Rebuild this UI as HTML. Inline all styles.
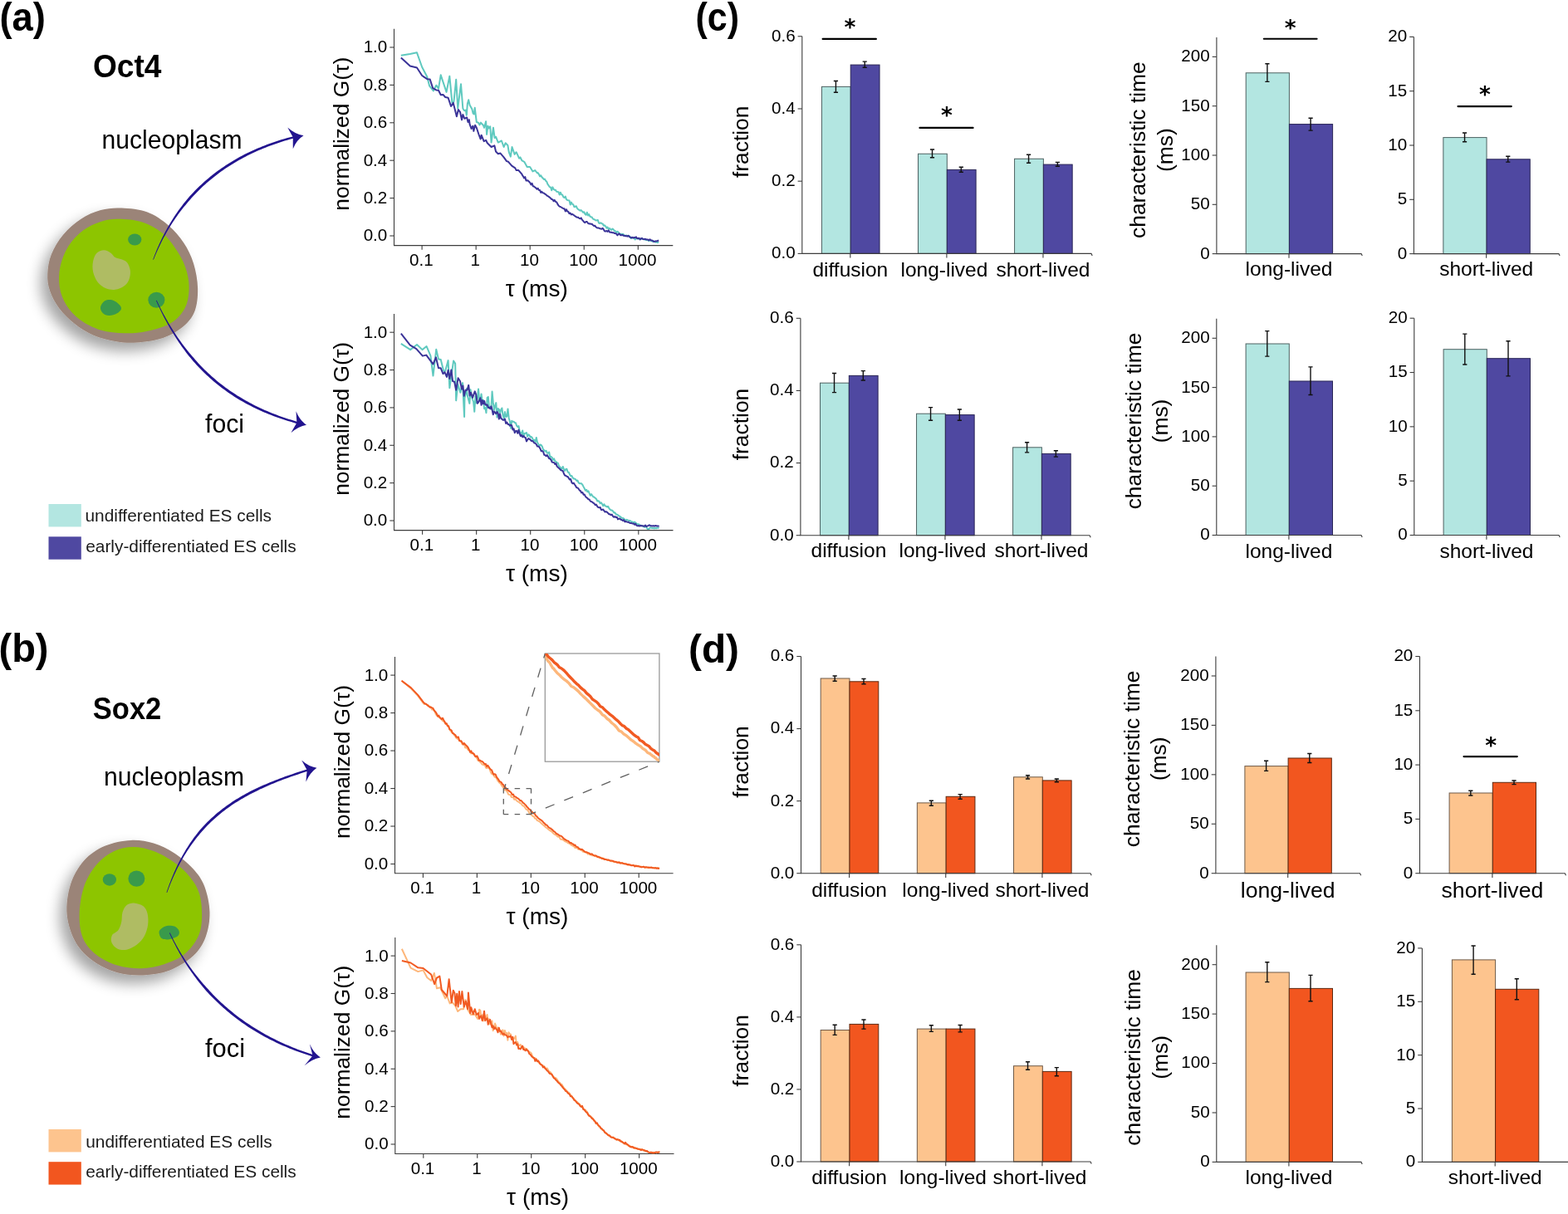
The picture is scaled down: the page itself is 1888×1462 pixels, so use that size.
<!DOCTYPE html><html><head><meta charset="utf-8"><style>html,body{margin:0;padding:0;background:#fff;overflow:hidden;}svg{display:block;}</style></head><body><svg width="1888" height="1462" viewBox="0 0 1888 1462" font-family='"Liberation Sans", Arial, sans-serif'><rect width="100%" height="100%" fill="#fff"/><path d="M474.5,34.75 V295.6 H810.3" fill="none" stroke="#3c3c3c" stroke-width="1.1"/>
<line x1="469.3" y1="284" x2="474.5" y2="284" stroke="#3c3c3c" stroke-width="1.1"/>
<text x="466.3" y="290.4" font-size="20.6" text-anchor="end">0.0</text>
<line x1="469.3" y1="238.6" x2="474.5" y2="238.6" stroke="#3c3c3c" stroke-width="1.1"/>
<text x="466.3" y="245" font-size="20.6" text-anchor="end">0.2</text>
<line x1="469.3" y1="193.2" x2="474.5" y2="193.2" stroke="#3c3c3c" stroke-width="1.1"/>
<text x="466.3" y="199.6" font-size="20.6" text-anchor="end">0.4</text>
<line x1="469.3" y1="147.8" x2="474.5" y2="147.8" stroke="#3c3c3c" stroke-width="1.1"/>
<text x="466.3" y="154.2" font-size="20.6" text-anchor="end">0.6</text>
<line x1="469.3" y1="102.4" x2="474.5" y2="102.4" stroke="#3c3c3c" stroke-width="1.1"/>
<text x="466.3" y="108.8" font-size="20.6" text-anchor="end">0.8</text>
<line x1="469.3" y1="57" x2="474.5" y2="57" stroke="#3c3c3c" stroke-width="1.1"/>
<text x="466.3" y="63.4" font-size="20.6" text-anchor="end">1.0</text>
<line x1="508.1" y1="295.6" x2="508.1" y2="300.8" stroke="#3c3c3c" stroke-width="1.1"/>
<text x="507.3" y="320.1" font-size="20.6" text-anchor="middle">0.1</text>
<line x1="573.15" y1="295.6" x2="573.15" y2="300.8" stroke="#3c3c3c" stroke-width="1.1"/>
<text x="572.35" y="320.1" font-size="20.6" text-anchor="middle">1</text>
<line x1="638.2" y1="295.6" x2="638.2" y2="300.8" stroke="#3c3c3c" stroke-width="1.1"/>
<text x="637.4" y="320.1" font-size="20.6" text-anchor="middle">10</text>
<line x1="703.25" y1="295.6" x2="703.25" y2="300.8" stroke="#3c3c3c" stroke-width="1.1"/>
<text x="702.45" y="320.1" font-size="20.6" text-anchor="middle">100</text>
<line x1="768.3" y1="295.6" x2="768.3" y2="300.8" stroke="#3c3c3c" stroke-width="1.1"/>
<text x="767.5" y="320.1" font-size="20.6" text-anchor="middle">1000</text>
<path d="M482.84,66.76L493.78,65.05L501.99,63.34L508.15,80.78L514.3,92.41L517.04,103.35L521.83,109.51L525.25,102.67L527.98,106.77L530.72,90.36L537.56,110.88L541.32,91.72L544.4,123.87L546.45,122.5L549.19,95.83L551.24,130.71L555,101.3L557.37,130.73L559.08,133.26L560.79,132.57L561.81,138.73L562.84,125.05L564.21,120.26L565.58,126.42L568.31,131.2L569.68,136.68L570.71,137.36L571.73,129.84L573.78,146.94L575.84,147.62L577.55,150.36L578.91,147.62L581.99,151.04L583.02,153.78L585.07,146.25L586.1,161.98L587.46,151.72L588.83,154.46L590.2,152.41L591.57,171.56L593.96,153.78L595.67,166.09L597.04,164.72L599.78,171.56L603.88,169.51L606.62,177.03L608.67,172.24L611.4,174.98L612.77,183.19L614.82,188.66L616.53,177.03L619.61,185.92L621.66,183.19L625.08,190.71L626.45,189.34L628.5,193.45L631.24,194.82L634.66,200.97L638.08,200.97L641.5,206.44L644.24,205.08L646.97,208.5L647.66,208.09L648.84,209.75L650.03,212.34L651.21,211.26L652.39,213.26L653.58,214.48L654.76,215.93L655.94,215.63L657.12,217.76L658.31,218.81L659.49,221.91L660.67,223.43L661.85,225.29L663.04,225.51L664.22,229.27L665.4,225.34L666.59,227.88L667.77,228.78L668.95,228.72L670.13,230.87L671.32,230.96L672.5,231.16L673.68,234.51L674.86,231.74L676.05,234.32L677.23,234.71L678.41,237.44L679.6,238L680.78,236.6L681.96,240.06L683.14,241.05L684.33,241.24L685.51,241.38L686.69,246.52L687.87,243.56L689.06,245.88L690.24,246.26L691.42,249.19L692.61,248.74L693.79,248.28L694.97,250.85L696.15,252.18L697.34,252.77L698.52,253.62L699.7,253.05L700.88,254.37L702.07,255.77L703.25,255.24L704.43,257.78L705.62,258.82L706.8,255.8L707.98,259.49L709.16,258.08L710.35,260.46L711.53,261.35L712.71,261.44L713.89,263.5L715.08,264.27L716.26,264.48L717.44,265.43L718.63,265.22L719.81,264.91L720.99,268.48L722.17,268.98L723.36,268.3L724.54,269.26L725.72,269.47L726.9,271.78L728.09,271.34L729.27,272.6L730.45,274.63L731.64,273.58L732.82,275.94L734,274.87L735.18,276.33L736.37,276.75L737.55,275.47L738.73,276.54L739.91,277.96L741.1,278.5L742.28,279.92L743.46,278.85L744.65,279.82L745.83,281.43L747.01,282.49L748.19,281.7L749.38,282.27L750.56,281.94L751.74,283.73L752.92,284.03L754.11,283.49L755.29,284.1L756.47,283.86L757.66,284.1L758.84,285.82L760.02,287.12L761.2,285.78L762.39,286.59L763.57,286.22L764.75,288.4L765.93,286.96L767.12,287.08L768.3,287.73L769.48,287.29L770.67,287.77L771.85,287.91L773.03,287.48L774.21,287.7L775.4,287.97L776.58,288.66L777.76,288.99L778.94,288.94L780.13,289.28L781.31,290.06L782.49,289.62L783.68,289.53L784.86,290.44L786.04,290.99L787.22,290.3L788.41,291.19L789.59,291.76L790.77,291.32L791.95,292.13L793.14,291.45" fill="none" stroke="#5fc9bf" stroke-width="2" stroke-linejoin="round"/>
<path d="M482.84,69.49L493.78,79.41L501.99,81.46L508.15,91.04L514.3,95.14L517.72,95.49L521.14,106.09L525.25,108.48L527.98,108.82L530.72,114.3L533.46,113.95L536.19,117.03L539.61,117.72L543.03,127.98L545.77,123.87L549.87,140.29L551.92,132.08L553.98,134.82L556.03,144.39L557.37,138.04L559.42,142.83L562.16,141.46L563.52,146.94L564.89,144.2L565.58,149.67L567.63,155.14L569.34,151.72L570.36,157.88L572.07,150.7L573.78,153.78L576.52,161.98L578.57,167.46L579.6,162.67L582.68,170.19L585.07,168.82L586.78,172.24L591.57,177.03L595.33,175.32L597.04,182.5L599.78,185.24L602.51,184.56L606.62,189.34L610.04,194.13L612.09,194.82L616.19,199.6L620.3,202.34L621.66,205.08L624.4,205.08L628.5,209.86L628.74,210.73L629.92,212.28L631.1,214.44L632.29,213.1L633.47,217.58L634.65,217.22L635.83,217.49L637.02,218.81L638.2,219.9L639.38,222.45L640.57,220.83L641.75,224.18L642.93,224.55L644.11,225.45L645.3,226.38L646.48,227.74L647.66,226.75L648.84,228.89L650.03,228.89L651.21,231.93L652.39,230.82L653.58,232.3L654.76,232.54L655.94,233.49L657.12,234.09L658.31,235.35L659.49,236.03L660.67,236.83L661.85,237.64L663.04,238.7L664.22,239.99L665.4,240.27L666.59,242.3L667.77,240.91L668.95,242.87L670.13,243.32L671.32,245.62L672.5,247.52L673.68,248.64L674.86,249L676.05,249.77L677.23,250.46L678.41,251.29L679.6,251.36L680.78,254.48L681.96,252.21L683.14,254.56L684.33,254.98L685.51,257.22L686.69,256.47L687.87,258.49L689.06,257.79L690.24,258.68L691.42,259.47L692.61,260.42L693.79,261.17L694.97,261.87L696.15,261.63L697.34,262.85L698.52,263.35L699.7,262.43L700.88,264.65L702.07,265.93L703.25,267.43L704.43,268.12L705.62,266.92L706.8,266.96L707.98,268.83L709.16,269.47L710.35,269.37L711.53,269.72L712.71,269.76L713.89,271.04L715.08,271.97L716.26,271.67L717.44,273.31L718.63,274.2L719.81,274.53L720.99,274.57L722.17,275.16L723.36,275.4L724.54,275.86L725.72,274.85L726.9,276.54L728.09,278.57L729.27,278.52L730.45,277.92L731.64,278.93L732.82,277.45L734,279.42L735.18,279.73L736.37,279.76L737.55,280.31L738.73,280.17L739.91,280.98L741.1,280.95L742.28,281.82L743.46,283.32L744.65,281.82L745.83,281.41L747.01,283.23L748.19,283.29L749.38,282.8L750.56,283.84L751.74,283.75L752.92,284.23L754.11,284.02L755.29,284.7L756.47,283.75L757.66,285.1L758.84,285.51L760.02,286.39L761.2,285.78L762.39,286.56L763.57,285.91L764.75,286.17L765.93,285.26L767.12,287.29L768.3,287L769.48,286.71L770.67,288.5L771.85,287.29L773.03,286.86L774.21,287.95L775.4,288.18L776.58,287.71L777.76,288.36L778.94,288.53L780.13,288.42L781.31,289.4L782.49,288.23L783.68,289.52L784.86,289.52L786.04,289.87L787.22,291.1L788.41,290.8L789.59,290.37L790.77,290.38L791.95,290L793.14,289.48" fill="none" stroke="#3a3398" stroke-width="2" stroke-linejoin="round"/>
<text x="420.2" y="161.18" font-size="26.4" text-anchor="middle" transform="rotate(-90 420.2 161.18)">normalized G(τ)</text>
<text x="646.3" y="356.8" font-size="27.5" text-anchor="middle" textLength="75" lengthAdjust="spacingAndGlyphs">τ (ms)</text>
<path d="M474.5,378.1 V638.6 H810.5" fill="none" stroke="#3c3c3c" stroke-width="1.1"/>
<line x1="469.3" y1="627" x2="474.5" y2="627" stroke="#3c3c3c" stroke-width="1.1"/>
<text x="466.3" y="633.4" font-size="20.6" text-anchor="end">0.0</text>
<line x1="469.3" y1="581.64" x2="474.5" y2="581.64" stroke="#3c3c3c" stroke-width="1.1"/>
<text x="466.3" y="588.04" font-size="20.6" text-anchor="end">0.2</text>
<line x1="469.3" y1="536.28" x2="474.5" y2="536.28" stroke="#3c3c3c" stroke-width="1.1"/>
<text x="466.3" y="542.68" font-size="20.6" text-anchor="end">0.4</text>
<line x1="469.3" y1="490.92" x2="474.5" y2="490.92" stroke="#3c3c3c" stroke-width="1.1"/>
<text x="466.3" y="497.32" font-size="20.6" text-anchor="end">0.6</text>
<line x1="469.3" y1="445.56" x2="474.5" y2="445.56" stroke="#3c3c3c" stroke-width="1.1"/>
<text x="466.3" y="451.96" font-size="20.6" text-anchor="end">0.8</text>
<line x1="469.3" y1="400.2" x2="474.5" y2="400.2" stroke="#3c3c3c" stroke-width="1.1"/>
<text x="466.3" y="406.6" font-size="20.6" text-anchor="end">1.0</text>
<line x1="508.6" y1="638.6" x2="508.6" y2="643.8" stroke="#3c3c3c" stroke-width="1.1"/>
<text x="507.8" y="663.1" font-size="20.6" text-anchor="middle">0.1</text>
<line x1="573.65" y1="638.6" x2="573.65" y2="643.8" stroke="#3c3c3c" stroke-width="1.1"/>
<text x="572.85" y="663.1" font-size="20.6" text-anchor="middle">1</text>
<line x1="638.7" y1="638.6" x2="638.7" y2="643.8" stroke="#3c3c3c" stroke-width="1.1"/>
<text x="637.9" y="663.1" font-size="20.6" text-anchor="middle">10</text>
<line x1="703.75" y1="638.6" x2="703.75" y2="643.8" stroke="#3c3c3c" stroke-width="1.1"/>
<text x="702.95" y="663.1" font-size="20.6" text-anchor="middle">100</text>
<line x1="768.8" y1="638.6" x2="768.8" y2="643.8" stroke="#3c3c3c" stroke-width="1.1"/>
<text x="768" y="663.1" font-size="20.6" text-anchor="middle">1000</text>
<path d="M482.84,413.94L494.13,421.12L501.99,414.97L508.49,421.12L513.62,417.02L518.41,428.3L521.49,452.59L525.25,420.78L527.98,432.41L530.72,433.09L534.14,446.77L536.19,446.77L539.61,434.12L541.32,467.29L546.11,434.46L548.16,437.88L549.19,482.34L551.24,462.5L554.32,472.76L557.05,461.14L559.08,501.98L559.46,479.39L560.64,474.76L561.82,468.12L563.01,477.05L564.19,481.41L565.37,485.9L566.55,469.13L567.74,476.63L568.92,480.77L570.1,483.92L571.28,495.79L572.47,477.01L573.65,485.34L574.83,479.32L576.02,468.45L577.2,482.89L578.38,481.9L579.56,474.42L580.75,483.71L581.93,481.94L583.11,492.24L584.29,491.17L585.48,497.29L586.66,479.06L587.84,478.02L589.03,491.51L590.21,490L591.39,492.82L592.57,471.59L593.76,484.67L594.94,493.7L596.12,488.79L597.3,485.14L598.49,502.59L599.67,491.93L600.85,492.93L602.04,497.85L603.22,493.45L604.4,491.44L605.58,500.34L606.77,503.81L607.95,496.07L609.13,502.03L610.31,501.31L611.5,492.39L612.68,503.48L613.86,507.23L615.05,515.79L616.23,506.77L617.41,507.89L618.59,507.67L619.78,509.02L620.96,509.32L622.14,512.73L623.32,514.16L624.51,513.1L625.69,519.54L626.87,521.4L628.06,522.08L629.24,518.53L630.42,526.06L631.6,522.08L632.79,521.79L633.97,520.96L635.15,525.81L636.33,523.32L637.52,524.24L638.7,526.68L639.88,525.98L641.07,527.55L642.25,530.79L643.43,529.88L644.61,532.15L645.8,526.96L646.98,532.7L648.16,534.59L649.34,537.28L650.53,535.55L651.71,536.03L652.89,537.87L654.08,541.53L655.26,542.17L656.44,543.48L657.62,542.75L658.81,545.57L659.99,545.75L661.17,544.45L662.35,550.74L663.54,549.9L664.72,550.93L665.9,554.06L667.09,552.29L668.27,555.25L669.45,555.94L670.63,557.14L671.82,557.58L673,561.12L674.18,562.19L675.36,563.78L676.55,564.5L677.73,561.94L678.91,564.94L680.1,566.88L681.28,565.09L682.46,564.81L683.64,568.52L684.83,568.77L686.01,571.37L687.19,573.33L688.37,572.98L689.56,575.29L690.74,576.55L691.92,576.58L693.11,577.32L694.29,578.92L695.47,578.61L696.65,581.37L697.84,582.18L699.02,582.24L700.2,582.31L701.38,583.83L702.57,586.13L703.75,588.22L704.93,590.82L706.12,589.78L707.3,592.25L708.48,591.34L709.66,594.17L710.85,596.72L712.03,595.17L713.21,596.82L714.39,598.3L715.58,598.71L716.76,599.86L717.94,600.73L719.13,603.42L720.31,603.16L721.49,603.92L722.67,606.17L723.86,605.2L725.04,607.07L726.22,609.17L727.4,607.21L728.59,609.29L729.77,609.66L730.95,610.55L732.14,609.84L733.32,612.05L734.5,613.5L735.68,614.44L736.87,614.6L738.05,615.58L739.23,617.39L740.41,617.21L741.6,619.19L742.78,619.52L743.96,620.15L745.15,621.16L746.33,621.97L747.51,622.68L748.69,623.83L749.88,623.94L751.06,624.39L752.24,625.88L753.42,626.46L754.61,625.82L755.79,626.47L756.97,626.8L758.16,626.9L759.34,627.59L760.52,628.61L761.7,628.42L762.89,629.62L764.07,628.63L765.25,629.49L766.43,630.54L767.62,631.36L768.8,631.15L769.98,632L771.17,632.86L772.35,632.71L773.53,633.53L774.71,633.68L775.9,634.79L777.08,634.14L778.26,634.64L779.44,636.69L780.63,637.08L781.81,636.53L782.99,635.24L784.18,635.67L785.36,635.9L786.54,635.79L787.72,636.48L788.91,635.74L790.09,636.26L791.27,635.61L792.45,635.83L793.64,635.86" fill="none" stroke="#5fc9bf" stroke-width="2" stroke-linejoin="round"/>
<path d="M482.84,401.63L493.78,415.65L501.31,420.1L508.83,428.65L513.28,427.62L521.49,438.56L524.91,430.36L527.98,443.35L530.72,443.35L533.46,450.19L535.51,448.14L537.9,453.95L539.61,445.75L541.32,456.01L543.37,445.4L545.08,459.08L547.14,459.77L549.19,469.69L551.58,455.32L553.98,459.08L556.03,468.66L557.4,464.56L558.76,476.87L560.47,469.69L562.53,469.69L564.24,463.87L565.6,476.53L566.97,472.76L569.02,478.92L571.76,471.4L573.13,474.82L574.84,485.76L576.02,484.52L577.2,482.33L578.38,479.23L579.56,487.86L580.75,482.01L581.93,486.35L583.11,482.88L584.29,487.24L585.48,487.74L586.66,487.28L587.84,490.93L589.03,490.66L590.21,492.22L591.39,489.38L592.57,493.27L593.76,499.24L594.94,495.41L596.12,496.76L597.3,498.3L598.49,496L599.67,497.68L600.85,504.59L602.04,498.75L603.22,503.84L604.4,504.66L605.58,505.7L606.77,505.68L607.95,504.47L609.13,509.95L610.31,508.5L611.5,510.88L612.68,510.96L613.86,512.66L615.05,511.63L616.23,512.53L617.41,517.59L618.59,516.3L619.78,521.32L620.96,518.93L622.14,518.9L623.32,521.79L624.51,517.83L625.69,522.2L626.87,525.21L628.06,523.91L629.24,526.36L630.42,525.03L631.6,526.63L632.79,527L633.97,531.47L635.15,529.43L636.33,528.05L637.52,528.82L638.7,529.6L639.88,531.08L641.07,531.1L642.25,532.11L643.43,533.53L644.61,533.87L645.8,535.12L646.98,537.48L648.16,537.58L649.34,538.29L650.53,540.45L651.71,543.29L652.89,543.08L654.08,543.94L655.26,547.73L656.44,548.17L657.62,549.24L658.81,548.09L659.99,550.03L661.17,552.16L662.35,552.31L663.54,553.94L664.72,556.61L665.9,556.83L667.09,556.92L668.27,559.07L669.45,558.08L670.63,561.59L671.82,562.76L673,563.87L674.18,564.92L675.36,566.25L676.55,566.52L677.73,567.22L678.91,570.23L680.1,572.47L681.28,572.9L682.46,573.8L683.64,573.92L684.83,575.89L686.01,577.58L687.19,576.93L688.37,580.95L689.56,582.24L690.74,581.67L691.92,583.48L693.11,585.15L694.29,587.27L695.47,587.39L696.65,588.67L697.84,590.54L699.02,591.2L700.2,593.46L701.38,592.92L702.57,595.65L703.75,595.43L704.93,597.91L706.12,599.11L707.3,599.78L708.48,601.35L709.66,601.49L710.85,603.63L712.03,604.04L713.21,604.71L714.39,605.59L715.58,606.52L716.76,608.12L717.94,607.63L719.13,609.79L720.31,610.91L721.49,611.17L722.67,610.97L723.86,613.9L725.04,613.93L726.22,613.49L727.4,615.02L728.59,616.58L729.77,616.12L730.95,616.82L732.14,617.94L733.32,619.28L734.5,619.33L735.68,620.17L736.87,619.65L738.05,621.7L739.23,622.76L740.41,622.12L741.6,623.04L742.78,622.71L743.96,625.43L745.15,624.67L746.33,624.53L747.51,625.71L748.69,625.91L749.88,626.93L751.06,626.07L752.24,628.18L753.42,627.91L754.61,628.43L755.79,628.84L756.97,628.82L758.16,629.69L759.34,629.93L760.52,630.08L761.7,630.57L762.89,630.52L764.07,631.86L765.25,630.78L766.43,632.88L767.62,633.19L768.8,633.01L769.98,633.56L771.17,632.92L772.35,633.19L773.53,633.21L774.71,633.4L775.9,633.66L777.08,632.51L778.26,634.2L779.44,633.38L780.63,633.13L781.81,632.3L782.99,632.97L784.18,633.22L785.36,633.52L786.54,633.12L787.72,633.71L788.91,633.03L790.09,633.24L791.27,633.58L792.45,633.54L793.64,633.73" fill="none" stroke="#3a3398" stroke-width="2" stroke-linejoin="round"/>
<text x="420.2" y="504.35" font-size="26.4" text-anchor="middle" transform="rotate(-90 420.2 504.35)">normalized G(τ)</text>
<text x="646.4" y="699.8" font-size="27.5" text-anchor="middle" textLength="75" lengthAdjust="spacingAndGlyphs">τ (ms)</text>
<path d="M475.5,791.1 V1051.8 H810.6" fill="none" stroke="#3c3c3c" stroke-width="1.1"/>
<line x1="470.3" y1="1040.5" x2="475.5" y2="1040.5" stroke="#3c3c3c" stroke-width="1.1"/>
<text x="467.3" y="1046.9" font-size="20.6" text-anchor="end">0.0</text>
<line x1="470.3" y1="995.02" x2="475.5" y2="995.02" stroke="#3c3c3c" stroke-width="1.1"/>
<text x="467.3" y="1001.42" font-size="20.6" text-anchor="end">0.2</text>
<line x1="470.3" y1="949.54" x2="475.5" y2="949.54" stroke="#3c3c3c" stroke-width="1.1"/>
<text x="467.3" y="955.94" font-size="20.6" text-anchor="end">0.4</text>
<line x1="470.3" y1="904.06" x2="475.5" y2="904.06" stroke="#3c3c3c" stroke-width="1.1"/>
<text x="467.3" y="910.46" font-size="20.6" text-anchor="end">0.6</text>
<line x1="470.3" y1="858.58" x2="475.5" y2="858.58" stroke="#3c3c3c" stroke-width="1.1"/>
<text x="467.3" y="864.98" font-size="20.6" text-anchor="end">0.8</text>
<line x1="470.3" y1="813.1" x2="475.5" y2="813.1" stroke="#3c3c3c" stroke-width="1.1"/>
<text x="467.3" y="819.5" font-size="20.6" text-anchor="end">1.0</text>
<line x1="509.4" y1="1051.8" x2="509.4" y2="1057" stroke="#3c3c3c" stroke-width="1.1"/>
<text x="508.6" y="1076.3" font-size="20.6" text-anchor="middle">0.1</text>
<line x1="574.35" y1="1051.8" x2="574.35" y2="1057" stroke="#3c3c3c" stroke-width="1.1"/>
<text x="573.55" y="1076.3" font-size="20.6" text-anchor="middle">1</text>
<line x1="639.3" y1="1051.8" x2="639.3" y2="1057" stroke="#3c3c3c" stroke-width="1.1"/>
<text x="638.5" y="1076.3" font-size="20.6" text-anchor="middle">10</text>
<line x1="704.25" y1="1051.8" x2="704.25" y2="1057" stroke="#3c3c3c" stroke-width="1.1"/>
<text x="703.45" y="1076.3" font-size="20.6" text-anchor="middle">100</text>
<line x1="769.2" y1="1051.8" x2="769.2" y2="1057" stroke="#3c3c3c" stroke-width="1.1"/>
<text x="768.4" y="1076.3" font-size="20.6" text-anchor="middle">1000</text>
<path d="M483.55,819.7L494.99,829.22L503.11,837.85L509.4,846.45L510.58,847.8L511.76,848.07L512.94,847.79L514.12,848.88L515.3,849.04L516.49,850.26L517.67,850.91L518.85,851.99L520.03,854.48L521.21,853.83L522.39,855.45L523.57,856.89L524.75,860.07L525.93,861.61L527.11,862.4L528.29,863.45L529.48,864.12L530.66,865.58L531.84,866.25L533.02,868.3L534.2,868.64L535.38,869.74L536.56,871.89L537.74,871.31L538.92,873.85L540.1,874.99L541.28,878.28L542.47,880.13L543.65,881.5L544.83,882.89L546.01,883.69L547.19,885.35L548.37,887.23L549.55,888.89L550.73,889.69L551.91,889.3L553.09,892.24L554.27,892.45L555.46,893.45L556.64,896.36L557.82,896.2L559,896.29L560.18,900.5L561.36,900.21L562.54,901.25L563.72,903.12L564.9,903.16L566.08,904.89L567.26,907.39L568.45,906.54L569.63,907.93L570.81,908.93L571.99,909.74L573.17,911.97L574.35,913.43L575.53,915.93L576.71,915.37L577.89,917.61L579.07,918.55L580.25,920.28L581.44,920.94L582.62,921.45L583.8,920.72L584.98,924.55L586.16,924.97L587.34,924.48L588.52,924.53L589.7,926.47L590.88,929.92L592.06,931.92L593.24,931.13L594.43,933.73L595.61,935.78L596.79,935.85L597.97,937.5L599.15,939.93L600.33,941.46L601.51,942.85L602.69,943.51L603.87,945.74L605.05,947.27L606.23,948.65L607.42,951.46L608.6,950.77L609.78,952.27L610.96,953.79L612.14,956.63L613.32,956.93L614.5,957.15L615.68,959.92L616.86,960L618.04,960.35L619.22,962.77L620.41,962.09L621.59,963.64L622.77,964.91L623.95,965.5L625.13,966.17L626.31,967.3L627.49,967.66L628.67,969.54L629.85,970.46L631.03,970.91L632.21,972.68L633.4,974.46L634.58,974.97L635.76,976.12L636.94,978.37L638.12,980.09L639.3,980.72L640.48,981.86L641.66,983.03L642.84,983.34L644.02,985.47L645.2,985.49L646.39,987.61L647.57,988.42L648.75,988.83L649.93,989.63L651.11,990.77L652.29,992L653.47,993.1L654.65,994.1L655.83,994.91L657.01,996.21L658.19,997L659.38,997.85L660.56,999.04L661.74,999.67L662.92,1000.68L664.1,1001.03L665.28,1002.61L666.46,1003.81L667.64,1004.68L668.82,1005.41L670,1005.91L671.18,1007.23L672.37,1007.77L673.55,1008.01L674.73,1010.46L675.91,1010.68L677.09,1010.91L678.27,1011.6L679.45,1012.39L680.63,1013.35L681.81,1013.67L682.99,1014.51L684.17,1015.5L685.36,1015.13L686.54,1016.57L687.72,1017.59L688.9,1018.12L690.08,1018.86L691.26,1019.49L692.44,1021.1L693.62,1020.99L694.8,1021.14L695.98,1022.55L697.16,1022.8L698.35,1023.07L699.53,1023.71L700.71,1024.08L701.89,1025.71L703.07,1025.81L704.25,1026.34L705.43,1026.55L706.61,1026.91L707.79,1028.65L708.97,1027.91L710.15,1029.21L711.34,1028.99L712.52,1030.14L713.7,1030.04L714.88,1030.15L716.06,1030.99L717.24,1031.29L718.42,1031.5L719.6,1032.1L720.78,1032.55L721.96,1032.42L723.14,1032.95L724.33,1033.73L725.51,1033.14L726.69,1034.69L727.87,1034.4L729.05,1035.09L730.23,1035.29L731.41,1035.44L732.59,1035.89L733.77,1036.07L734.95,1037.01L736.13,1037.29L737.32,1036.94L738.5,1037.68L739.68,1037.97L740.86,1038.36L742.04,1037.82L743.22,1038.22L744.4,1038.26L745.58,1039.2L746.76,1039.17L747.94,1039.73L749.12,1039.43L750.31,1039.43L751.49,1040.36L752.67,1039.91L753.85,1040.3L755.03,1040.85L756.21,1041.59L757.39,1040.9L758.57,1041.55L759.75,1041.92L760.93,1041.89L762.11,1042.12L763.3,1042.05L764.48,1042.95L765.66,1042.59L766.84,1042.7L768.02,1042.91L769.2,1043.52L770.38,1043.83L771.56,1043.53L772.74,1043.91L773.92,1044.03L775.1,1043.83L776.29,1044.37L777.47,1044.99L778.65,1044.62L779.83,1045.08L781.01,1044.51L782.19,1044.73L783.37,1045.04L784.55,1044.99L785.73,1044.87L786.91,1045.14L788.09,1044.93L789.28,1045.34L790.46,1045.17L791.64,1045.15L792.82,1045.22L794,1045.84" fill="none" stroke="#fdb77b" stroke-width="2" stroke-linejoin="round"/>
<path d="M483.55,819.69L494.99,828.4L503.11,836.87L509.4,845.2L510.58,846.42L511.76,847.35L512.94,847.78L514.12,848.86L515.3,849.95L516.49,850.72L517.67,851.66L518.85,851.5L520.03,852.33L521.21,852.74L522.39,854.95L523.57,856.55L524.75,857.71L525.93,859.71L527.11,862.64L528.29,861.65L529.48,864.14L530.66,864.75L531.84,866.27L533.02,864.7L534.2,867.27L535.38,869.04L536.56,871.61L537.74,871.27L538.92,874.36L540.1,874.25L541.28,878.31L542.47,878.79L543.65,879.57L544.83,882.73L546.01,883.29L547.19,884.55L548.37,885.09L549.55,887.57L550.73,887.66L551.91,887.52L553.09,891.9L554.27,892.45L555.46,892.37L556.64,894.57L557.82,896.41L559,895.02L560.18,896.65L561.36,897.72L562.54,898.94L563.72,900.47L564.9,903.13L566.08,905.79L567.26,904.27L568.45,906.95L569.63,907.11L570.81,908.01L571.99,910.79L573.17,911.14L574.35,910.38L575.53,912.47L576.71,915.87L577.89,915.63L579.07,916.48L580.25,916.9L581.44,917.64L582.62,919.27L583.8,920.27L584.98,920.11L586.16,923.11L587.34,921.72L588.52,923.49L589.7,925.37L590.88,926.73L592.06,927.45L593.24,930.46L594.43,932.81L595.61,932.16L596.79,932.95L597.97,935.93L599.15,937.37L600.33,938.94L601.51,941.13L602.69,941.49L603.87,942.59L605.05,944.56L606.23,945.24L607.42,947.91L608.6,948.22L609.78,950.14L610.96,951.13L612.14,951.78L613.32,952.99L614.5,953.65L615.68,954.87L616.86,957.1L618.04,956.6L619.22,959.35L620.41,959.44L621.59,960.12L622.77,961.2L623.95,961.7L625.13,962.78L626.31,964.15L627.49,964.07L628.67,965.46L629.85,966.93L631.03,967.58L632.21,968.88L633.4,970.03L634.58,971.84L635.76,972.85L636.94,974.38L638.12,974.83L639.3,976.96L640.48,977.34L641.66,979.08L642.84,979.62L644.02,980.14L645.2,982.42L646.39,983.22L647.57,984.73L648.75,985.7L649.93,986.69L651.11,987.46L652.29,988.15L653.47,989.23L654.65,990.87L655.83,991.64L657.01,993.36L658.19,993.53L659.38,994.89L660.56,996.25L661.74,997.1L662.92,997.55L664.1,998.71L665.28,999.46L666.46,1000.85L667.64,1001.55L668.82,1002.63L670,1004.05L671.18,1004.4L672.37,1005.26L673.55,1006.33L674.73,1006.59L675.91,1006.9L677.09,1007.99L678.27,1009.31L679.45,1010.55L680.63,1010.96L681.81,1011.9L682.99,1012.37L684.17,1012.75L685.36,1013.96L686.54,1015.21L687.72,1014.95L688.9,1016.17L690.08,1016.46L691.26,1018.01L692.44,1017.55L693.62,1019.61L694.8,1019.86L695.98,1020.33L697.16,1022.21L698.35,1022.27L699.53,1023.2L700.71,1022.7L701.89,1023.67L703.07,1024.84L704.25,1025.7L705.43,1026.28L706.61,1026.2L707.79,1027.09L708.97,1027.24L710.15,1028.07L711.34,1028.97L712.52,1028.32L713.7,1029.24L714.88,1030.1L716.06,1030.45L717.24,1030.37L718.42,1030.97L719.6,1032.08L720.78,1031.64L721.96,1032.73L723.14,1032.77L724.33,1033.74L725.51,1033.97L726.69,1033.9L727.87,1034.9L729.05,1034.87L730.23,1035.12L731.41,1035.79L732.59,1035.48L733.77,1036.04L734.95,1036.59L736.13,1036.54L737.32,1036.73L738.5,1037.05L739.68,1037.73L740.86,1037.71L742.04,1038.1L743.22,1038.78L744.4,1038.81L745.58,1038.36L746.76,1039.42L747.94,1039.28L749.12,1039.16L750.31,1039.99L751.49,1040.12L752.67,1040.55L753.85,1040.43L755.03,1041.15L756.21,1040.92L757.39,1041.51L758.57,1041.43L759.75,1042.23L760.93,1042.3L762.11,1041.97L763.3,1042.3L764.48,1043.5L765.66,1042.48L766.84,1043.32L768.02,1043.05L769.2,1043.2L770.38,1043.69L771.56,1043.9L772.74,1044.44L773.92,1043.95L775.1,1043.71L776.29,1044.63L777.47,1044.13L778.65,1044.33L779.83,1044.38L781.01,1044.98L782.19,1044.84L783.37,1044.83L784.55,1044.56L785.73,1045.3L786.91,1045.29L788.09,1045.43L789.28,1045.12L790.46,1045.79L791.64,1045.55L792.82,1045.9L794,1045.77" fill="none" stroke="#f15a22" stroke-width="2" stroke-linejoin="round"/>
<text x="421.2" y="917.45" font-size="26.4" text-anchor="middle" transform="rotate(-90 421.2 917.45)">normalized G(τ)</text>
<text x="646.95" y="1113" font-size="27.5" text-anchor="middle" textLength="75" lengthAdjust="spacingAndGlyphs">τ (ms)</text>
<path d="M475.8,1128.9 V1389.5 H811.5" fill="none" stroke="#3c3c3c" stroke-width="1.1"/>
<line x1="470.6" y1="1378" x2="475.8" y2="1378" stroke="#3c3c3c" stroke-width="1.1"/>
<text x="467.6" y="1384.4" font-size="20.6" text-anchor="end">0.0</text>
<line x1="470.6" y1="1332.62" x2="475.8" y2="1332.62" stroke="#3c3c3c" stroke-width="1.1"/>
<text x="467.6" y="1339.02" font-size="20.6" text-anchor="end">0.2</text>
<line x1="470.6" y1="1287.24" x2="475.8" y2="1287.24" stroke="#3c3c3c" stroke-width="1.1"/>
<text x="467.6" y="1293.64" font-size="20.6" text-anchor="end">0.4</text>
<line x1="470.6" y1="1241.86" x2="475.8" y2="1241.86" stroke="#3c3c3c" stroke-width="1.1"/>
<text x="467.6" y="1248.26" font-size="20.6" text-anchor="end">0.6</text>
<line x1="470.6" y1="1196.48" x2="475.8" y2="1196.48" stroke="#3c3c3c" stroke-width="1.1"/>
<text x="467.6" y="1202.88" font-size="20.6" text-anchor="end">0.8</text>
<line x1="470.6" y1="1151.1" x2="475.8" y2="1151.1" stroke="#3c3c3c" stroke-width="1.1"/>
<text x="467.6" y="1157.5" font-size="20.6" text-anchor="end">1.0</text>
<line x1="509.8" y1="1389.5" x2="509.8" y2="1394.7" stroke="#3c3c3c" stroke-width="1.1"/>
<text x="509" y="1414" font-size="20.6" text-anchor="middle">0.1</text>
<line x1="574.75" y1="1389.5" x2="574.75" y2="1394.7" stroke="#3c3c3c" stroke-width="1.1"/>
<text x="573.95" y="1414" font-size="20.6" text-anchor="middle">1</text>
<line x1="639.7" y1="1389.5" x2="639.7" y2="1394.7" stroke="#3c3c3c" stroke-width="1.1"/>
<text x="638.9" y="1414" font-size="20.6" text-anchor="middle">10</text>
<line x1="704.65" y1="1389.5" x2="704.65" y2="1394.7" stroke="#3c3c3c" stroke-width="1.1"/>
<text x="703.85" y="1414" font-size="20.6" text-anchor="middle">100</text>
<line x1="769.6" y1="1389.5" x2="769.6" y2="1394.7" stroke="#3c3c3c" stroke-width="1.1"/>
<text x="768.8" y="1414" font-size="20.6" text-anchor="middle">1000</text>
<path d="M483.87,1142.74L494.47,1165.65L503.36,1170.1L509.52,1168.39L514.3,1177.28L519.09,1181.04L522.85,1171.81L525.93,1190.27L530.04,1189.25L536.19,1202.24L538.24,1199.51L541.66,1208.4L544.4,1207.03L547.82,1210.45L551.24,1217.98L554.66,1215.24L558.08,1215.24L560.47,1203.95L562.87,1215.24L566.97,1222.08L571.76,1221.4L575.18,1226.87L575.93,1225.87L577.11,1215.7L578.29,1217.02L579.47,1224.83L580.65,1222.3L581.84,1229.47L583.02,1220.74L584.2,1225.07L585.38,1225.61L586.56,1221.99L587.74,1230.6L588.92,1227.25L590.1,1233.56L591.28,1232.56L592.46,1229.48L593.64,1241.23L594.83,1238.37L596.01,1232.59L597.19,1235.63L598.37,1240.49L599.55,1237.47L600.73,1238.48L601.91,1241.35L603.09,1245.84L604.27,1241.74L605.45,1240.42L606.63,1247.48L607.82,1240.91L609,1244.68L610.18,1243.98L611.36,1252.72L612.54,1243.34L613.72,1245.32L614.9,1245.39L616.08,1251.42L617.26,1249.31L618.44,1250.69L619.62,1250.42L620.81,1247.58L621.99,1258.87L623.17,1254.99L624.35,1259.32L625.53,1259.05L626.71,1257.95L627.89,1261.15L629.07,1261.9L630.25,1260.81L631.43,1262.11L632.61,1262.77L633.8,1262.89L634.98,1264.61L636.16,1265.58L637.34,1267.13L638.52,1267.29L639.7,1268.4L640.88,1271.67L642.06,1273.2L643.24,1274.49L644.42,1274.35L645.6,1275.03L646.79,1277.42L647.97,1278.88L649.15,1279.93L650.33,1281.11L651.51,1281.94L652.69,1283.44L653.87,1283.38L655.05,1284.32L656.23,1285.48L657.41,1287.83L658.59,1286.4L659.78,1288.16L660.96,1290.31L662.14,1290.79L663.32,1291.99L664.5,1293.87L665.68,1296.6L666.86,1297.01L668.04,1298.01L669.22,1298.3L670.4,1299.47L671.58,1301.21L672.77,1303.24L673.95,1303.72L675.13,1305.8L676.31,1305.72L677.49,1307.89L678.67,1309.6L679.85,1311.17L681.03,1312.1L682.21,1313.51L683.39,1316.22L684.57,1315.45L685.76,1316.75L686.94,1318.95L688.12,1319.35L689.3,1321.8L690.48,1322.75L691.66,1324.02L692.84,1325.34L694.02,1326.65L695.2,1327.23L696.38,1328.71L697.56,1329.43L698.75,1330.95L699.93,1331.73L701.11,1333.61L702.29,1334.81L703.47,1336.74L704.65,1336.32L705.83,1337.86L707.01,1339.02L708.19,1341.62L709.37,1342.9L710.55,1343.75L711.74,1345.72L712.92,1345.83L714.1,1348.34L715.28,1348.63L716.46,1350.3L717.64,1353.25L718.82,1353.35L720,1354.63L721.18,1356.63L722.36,1357.5L723.54,1359.2L724.73,1360.31L725.91,1360.74L727.09,1362.26L728.27,1363.31L729.45,1364.93L730.63,1365.4L731.81,1366.88L732.99,1366.75L734.17,1368.1L735.35,1368.91L736.53,1369.46L737.72,1369.89L738.9,1369.51L740.08,1370.96L741.26,1371.65L742.44,1372.73L743.62,1372.13L744.8,1372.95L745.98,1373.98L747.16,1373.78L748.34,1375.28L749.52,1375.04L750.71,1376.65L751.89,1377.31L753.07,1377.52L754.25,1378.46L755.43,1378.05L756.61,1379.95L757.79,1379.68L758.97,1380.33L760.15,1381.08L761.33,1381.41L762.51,1380.92L763.7,1383.02L764.88,1382.7L766.06,1383.24L767.24,1382.8L768.42,1383.98L769.6,1383.99L770.78,1384.52L771.96,1383.81L773.14,1384.29L774.32,1384.89L775.5,1385.89L776.69,1385.54L777.87,1386.1L779.05,1386.44L780.23,1387.31L781.41,1387.51L782.59,1388.24L783.77,1387.66L784.95,1388.34L786.13,1387.68L787.31,1388.35L788.49,1387.64L789.68,1388L790.86,1388.16L792.04,1387.7L793.22,1387.21L794.4,1387.31" fill="none" stroke="#fdb77b" stroke-width="2" stroke-linejoin="round"/>
<path d="M483.87,1157.1L494.47,1159.49L503.36,1165.31L509.52,1165.99L519.09,1173.52L523.2,1185.14L525.93,1177.62L529.35,1175.57L531.75,1191.98L538.24,1199.51L540.64,1179.33L543.72,1207.37L545.77,1192.67L547.48,1196.09L548.85,1211.14L550.21,1196.77L551.58,1212.5L552.95,1194.04L554.66,1209.08L556.37,1194.04L558.76,1212.5L560.82,1205.66L563.21,1215.24L563.89,1195.4L566.29,1220.03L567.31,1213.19L569.71,1221.4L571.76,1215.24L573.81,1222.08L576,1220.03L577.11,1226.87L578.29,1224.27L579.47,1223.36L580.65,1229.1L581.84,1225.65L583.02,1217.65L584.2,1229.19L585.38,1227.51L586.56,1226.22L587.74,1233.79L588.92,1229.33L590.1,1227.96L591.28,1232.93L592.46,1237.35L593.64,1235.28L594.83,1239.1L596.01,1237.22L597.19,1238.8L598.37,1240.19L599.55,1243.33L600.73,1237.66L601.91,1241.97L603.09,1241.63L604.27,1243.72L605.45,1245.86L606.63,1244.55L607.82,1246.11L609,1246.4L610.18,1247.22L611.36,1249.15L612.54,1248.29L613.72,1248.52L614.9,1247.47L616.08,1251.98L617.26,1248.73L618.44,1257.18L619.62,1255.57L620.81,1255.07L621.99,1257.84L623.17,1257.28L624.35,1263.07L625.53,1262.57L626.71,1263.46L627.89,1261.34L629.07,1259.62L630.25,1264.09L631.43,1263.82L632.61,1265.3L633.8,1263.63L634.98,1265.01L636.16,1266.06L637.34,1269.2L638.52,1269.79L639.7,1271.55L640.88,1272.75L642.06,1273.76L643.24,1274.21L644.42,1277.88L645.6,1275.57L646.79,1278.1L647.97,1277.31L649.15,1279.08L650.33,1281.25L651.51,1282.08L652.69,1282.56L653.87,1285.35L655.05,1284.64L656.23,1286.6L657.41,1287.5L658.59,1289.26L659.78,1289.94L660.96,1291.76L662.14,1293.03L663.32,1293.27L664.5,1294.1L665.68,1295.83L666.86,1298.34L668.04,1298.8L669.22,1300.39L670.4,1301.41L671.58,1303.07L672.77,1304.29L673.95,1305L675.13,1306.72L676.31,1307.8L677.49,1309.43L678.67,1311.03L679.85,1312.02L681.03,1314.06L682.21,1314.17L683.39,1315.72L684.57,1317.09L685.76,1317.65L686.94,1320.24L688.12,1320.13L689.3,1321.58L690.48,1323.18L691.66,1325.17L692.84,1325.56L694.02,1327.26L695.2,1328.63L696.38,1329.25L697.56,1330.32L698.75,1332.19L699.93,1332.91L701.11,1331.93L702.29,1335.89L703.47,1336.21L704.65,1337.91L705.83,1339.42L707.01,1340.03L708.19,1342.47L709.37,1343.98L710.55,1344.22L711.74,1345.38L712.92,1347.05L714.1,1347.49L715.28,1349.61L716.46,1350.54L717.64,1352.78L718.82,1352.27L720,1354.68L721.18,1355.74L722.36,1356.75L723.54,1358.71L724.73,1359.4L725.91,1360.82L727.09,1361.44L728.27,1363.82L729.45,1364.36L730.63,1365.34L731.81,1366.56L732.99,1367.6L734.17,1367.58L735.35,1369.3L736.53,1369.8L737.72,1369.74L738.9,1370.3L740.08,1371.25L741.26,1371.66L742.44,1372.51L743.62,1372.12L744.8,1372.83L745.98,1372.66L747.16,1374.5L748.34,1374.42L749.52,1375.57L750.71,1376.1L751.89,1377.41L753.07,1375.91L754.25,1377.6L755.43,1378.24L756.61,1379.12L757.79,1380.33L758.97,1381.03L760.15,1381.47L761.33,1380.98L762.51,1382.14L763.7,1382.14L764.88,1382.42L766.06,1382.87L767.24,1383.48L768.42,1383.8L769.6,1383.83L770.78,1384.22L771.96,1385.08L773.14,1384.37L774.32,1384.77L775.5,1385.14L776.69,1385.65L777.87,1386.49L779.05,1385.93L780.23,1387.4L781.41,1387.71L782.59,1388.09L783.77,1387.62L784.95,1387.98L786.13,1388.59L787.31,1388.17L788.49,1388.29L789.68,1387.44L790.86,1387.38L792.04,1387.91L793.22,1387.61L794.4,1387.47" fill="none" stroke="#f15a22" stroke-width="2" stroke-linejoin="round"/>
<text x="421.5" y="1255.2" font-size="26.4" text-anchor="middle" transform="rotate(-90 421.5 1255.2)">normalized G(τ)</text>
<text x="647.55" y="1450.7" font-size="27.5" text-anchor="middle" textLength="75" lengthAdjust="spacingAndGlyphs">τ (ms)</text>
<rect x="656.3" y="787" width="137.6" height="130.2" fill="#fff" stroke="#9a9a9a" stroke-width="1.3"/>
<g stroke="#606060" stroke-width="1.3" fill="none">
<line x1="606.3" y1="949.6" x2="639.5" y2="949.6" stroke-dasharray="6 7.35 6.5 7.35 8"/>
<line x1="639.5" y1="949.6" x2="639.5" y2="980.7" stroke-dasharray="6 6.3 6.5 6.3 8"/>
<line x1="639.5" y1="980.7" x2="606.3" y2="980.7" stroke-dasharray="6 7.35 6.5 7.35 8"/>
<line x1="606.3" y1="980.7" x2="606.3" y2="949.6" stroke-dasharray="6 6.3 6.5 6.3 8"/>
<line x1="607.5" y1="948.8" x2="656.3" y2="787.2" stroke-dasharray="11.6 12.7" stroke-dashoffset="6.8"/>
<line x1="639.5" y1="980.2" x2="793.9" y2="917.2" stroke-dasharray="11.6 12.7" stroke-dashoffset="5.6"/>
</g>
<clipPath id="insclip"><rect x="656.3" y="787" width="137.6" height="130.2"/></clipPath>
<g clip-path="url(#insclip)" fill="none" stroke-linejoin="round">
<path d="M656.3,790.5L657.45,791.63L658.6,794.03L659.75,795.99L660.9,796.99L662.05,798.3L663.2,800.55L664.35,802.48L665.5,804.43L666.65,805.07L667.8,806.72L670.67,810.2L673.54,812.67L676.41,815.73L679.28,818.06L682.15,820.15L685.02,822.66L687.89,826.52L690.76,827.81L693.63,830.17L696.5,832.59L699.38,835.87L702.26,838.63L705.14,841.13L708.02,843.99L710.9,846.87L713.78,849.79L716.66,852.7L719.54,855.03L722.42,856.86L725.3,860.72L728.17,862.35L731.04,865.5L733.91,867.51L736.78,870.76L739.65,873L742.52,876.04L745.39,880.02L748.26,881.1L751.13,884.09L754,885.7L756.87,888.32L759.74,890.9L762.61,892.71L765.48,895.07L768.35,897.1L771.22,898.75L774.09,901.6L776.96,903.13L779.83,906.49L782.7,907.57L783.88,908.98L785.06,909.54L786.24,910.84L787.42,911.01L788.6,912.6L789.78,912.96L790.96,914.46L792.14,915.04L793.32,915.69L794.5,916.5" stroke="#fdb77b" stroke-width="3.4"/>
<path d="M656.3,787.2L658.46,788.52L660.62,791.25L662.77,793L664.93,794.88L667.09,797.51L669.25,799.08L671.41,800.9L673.57,803.81L675.73,804.75L677.88,806.38L680.04,808.31L682.2,810.66L684.59,813.53L686.98,815.95L689.38,818.41L691.77,821.07L694.16,823.34L696.55,825.2L698.94,827.85L701.33,829.88L703.73,831.66L706.12,834.62L708.51,836.61L710.9,838.83L713.29,841.98L715.68,843.57L718.08,845.15L720.47,847.49L722.86,850.74L725.25,851.71L727.64,854.31L730.03,856.41L732.42,858.51L734.82,860.69L737.21,862.36L739.6,864.51L742,866.69L744.4,868.65L746.8,871.22L749.2,873.59L751.6,874.53L754,877.22L756.4,878.57L758.8,880.74L761.2,882.99L763.6,885.19L766,886.98L768.4,888.04L770.57,891.55L772.75,892.48L774.92,894.01L777.1,896.3L779.27,897.41L781.45,898.72L783.62,901.29L785.8,902.95L787.98,904.07L790.15,906.52L792.32,908L794.5,909.5" stroke="#f15a22" stroke-width="3.4"/>
</g>
<rect x="989.43" y="104.4" width="34.8" height="201" fill="#b3e6e1" stroke="#4e6262" stroke-width="1"/>
<rect x="1024.23" y="78.1" width="34.8" height="227.3" fill="#4f48a1" stroke="#2a2656" stroke-width="1"/>
<path d="M1006.43,97.5 V111.25 M1003.83,97.5 H1009.03 M1003.83,111.25 H1009.03" stroke="#111" stroke-width="1.4" fill="none"/>
<path d="M1041.23,74.1 V81.25 M1038.63,74.1 H1043.83 M1038.63,81.25 H1043.83" stroke="#111" stroke-width="1.4" fill="none"/>
<line x1="1023.83" y1="305.4" x2="1023.83" y2="310.6" stroke="#3c3c3c" stroke-width="1.1"/>
<text x="1023.83" y="332.8" font-size="24.5" text-anchor="middle">diffusion</text>
<rect x="1105.5" y="185.25" width="34.8" height="120.15" fill="#b3e6e1" stroke="#4e6262" stroke-width="1"/>
<rect x="1140.3" y="204.4" width="34.8" height="101" fill="#4f48a1" stroke="#2a2656" stroke-width="1"/>
<path d="M1122.5,180 V189.75 M1119.9,180 H1125.1 M1119.9,189.75 H1125.1" stroke="#111" stroke-width="1.4" fill="none"/>
<path d="M1157.3,201.25 V207.25 M1154.7,201.25 H1159.9 M1154.7,207.25 H1159.9" stroke="#111" stroke-width="1.4" fill="none"/>
<line x1="1139.9" y1="305.4" x2="1139.9" y2="310.6" stroke="#3c3c3c" stroke-width="1.1"/>
<text x="1136.9" y="332.8" font-size="24.5" text-anchor="middle">long-lived</text>
<rect x="1221.57" y="191.25" width="34.8" height="114.15" fill="#b3e6e1" stroke="#4e6262" stroke-width="1"/>
<rect x="1256.37" y="198.1" width="34.8" height="107.3" fill="#4f48a1" stroke="#2a2656" stroke-width="1"/>
<path d="M1238.57,186.25 V196.25 M1235.97,186.25 H1241.17 M1235.97,196.25 H1241.17" stroke="#111" stroke-width="1.4" fill="none"/>
<path d="M1273.37,195.4 V200.25 M1270.77,195.4 H1275.97 M1270.77,200.25 H1275.97" stroke="#111" stroke-width="1.4" fill="none"/>
<line x1="1255.97" y1="305.4" x2="1255.97" y2="310.6" stroke="#3c3c3c" stroke-width="1.1"/>
<text x="1255.97" y="332.8" font-size="24.5" text-anchor="middle">short-lived</text>
<path d="M965.8,43.75 V305.4 H1314 l1.2,2.5" fill="none" stroke="#3c3c3c" stroke-width="1.1"/>
<line x1="960.6" y1="305.4" x2="965.8" y2="305.4" stroke="#3c3c3c" stroke-width="1.1"/>
<text x="957.6" y="311.3" font-size="20.6" text-anchor="end">0.0</text>
<line x1="960.6" y1="218.18" x2="965.8" y2="218.18" stroke="#3c3c3c" stroke-width="1.1"/>
<text x="957.6" y="224.08" font-size="20.6" text-anchor="end">0.2</text>
<line x1="960.6" y1="130.97" x2="965.8" y2="130.97" stroke="#3c3c3c" stroke-width="1.1"/>
<text x="957.6" y="136.87" font-size="20.6" text-anchor="end">0.4</text>
<line x1="960.6" y1="43.75" x2="965.8" y2="43.75" stroke="#3c3c3c" stroke-width="1.1"/>
<text x="957.6" y="49.65" font-size="20.6" text-anchor="end">0.6</text>
<line x1="990.6" y1="46.9" x2="1054.9" y2="46.9" stroke="#000" stroke-width="2.1" stroke-linecap="round"/>
<text x="1023.4" y="41.75" font-size="26.5" text-anchor="middle" font-weight="bold" font-family="DejaVu Sans">*</text>
<line x1="1107.4" y1="153.9" x2="1171.6" y2="153.9" stroke="#000" stroke-width="2.1" stroke-linecap="round"/>
<text x="1140" y="148.25" font-size="26.5" text-anchor="middle" font-weight="bold" font-family="DejaVu Sans">*</text>
<rect x="1500.2" y="87.8" width="52.2" height="217.8" fill="#b3e6e1" stroke="#4e6262" stroke-width="1"/>
<rect x="1552.4" y="149.6" width="52.2" height="156" fill="#4f48a1" stroke="#2a2656" stroke-width="1"/>
<path d="M1525.9,76.7 V98.4 M1523.3,76.7 H1528.5 M1523.3,98.4 H1528.5" stroke="#111" stroke-width="1.4" fill="none"/>
<path d="M1578.1,142.2 V157.1 M1575.5,142.2 H1580.7 M1575.5,157.1 H1580.7" stroke="#111" stroke-width="1.4" fill="none"/>
<line x1="1552" y1="305.6" x2="1552" y2="310.8" stroke="#3c3c3c" stroke-width="1.1"/>
<text x="1552" y="332.4" font-size="24.5" text-anchor="middle">long-lived</text>
<path d="M1464.9,45.1 V305.6 H1639.1 l1.2,2.5" fill="none" stroke="#3c3c3c" stroke-width="1.1"/>
<line x1="1459.7" y1="305.6" x2="1464.9" y2="305.6" stroke="#3c3c3c" stroke-width="1.1"/>
<text x="1456.7" y="311.5" font-size="20.6" text-anchor="end">0</text>
<line x1="1459.7" y1="246.3" x2="1464.9" y2="246.3" stroke="#3c3c3c" stroke-width="1.1"/>
<text x="1456.7" y="252.2" font-size="20.6" text-anchor="end">50</text>
<line x1="1459.7" y1="187" x2="1464.9" y2="187" stroke="#3c3c3c" stroke-width="1.1"/>
<text x="1456.7" y="192.9" font-size="20.6" text-anchor="end">100</text>
<line x1="1459.7" y1="127.7" x2="1464.9" y2="127.7" stroke="#3c3c3c" stroke-width="1.1"/>
<text x="1456.7" y="133.6" font-size="20.6" text-anchor="end">150</text>
<line x1="1459.7" y1="68.4" x2="1464.9" y2="68.4" stroke="#3c3c3c" stroke-width="1.1"/>
<text x="1456.7" y="74.3" font-size="20.6" text-anchor="end">200</text>
<line x1="1521.8" y1="46.8" x2="1585.6" y2="46.8" stroke="#000" stroke-width="2.1" stroke-linecap="round"/>
<text x="1553.8" y="42.65" font-size="26.5" text-anchor="middle" font-weight="bold" font-family="DejaVu Sans">*</text>
<rect x="1737.85" y="165.6" width="52.2" height="140" fill="#b3e6e1" stroke="#4e6262" stroke-width="1"/>
<rect x="1790.05" y="191.8" width="52.2" height="113.8" fill="#4f48a1" stroke="#2a2656" stroke-width="1"/>
<path d="M1763.55,160 V170.7 M1760.95,160 H1766.15 M1760.95,170.7 H1766.15" stroke="#111" stroke-width="1.4" fill="none"/>
<path d="M1815.75,188.2 V195.1 M1813.15,188.2 H1818.35 M1813.15,195.1 H1818.35" stroke="#111" stroke-width="1.4" fill="none"/>
<line x1="1789.65" y1="305.6" x2="1789.65" y2="310.8" stroke="#3c3c3c" stroke-width="1.1"/>
<text x="1789.65" y="332.4" font-size="24.5" text-anchor="middle">short-lived</text>
<path d="M1702.4,44.4 V305.6 H1876.9 l1.2,2.5" fill="none" stroke="#3c3c3c" stroke-width="1.1"/>
<line x1="1697.2" y1="305.6" x2="1702.4" y2="305.6" stroke="#3c3c3c" stroke-width="1.1"/>
<text x="1694.2" y="311.5" font-size="20.6" text-anchor="end">0</text>
<line x1="1697.2" y1="240.3" x2="1702.4" y2="240.3" stroke="#3c3c3c" stroke-width="1.1"/>
<text x="1694.2" y="246.2" font-size="20.6" text-anchor="end">5</text>
<line x1="1697.2" y1="175" x2="1702.4" y2="175" stroke="#3c3c3c" stroke-width="1.1"/>
<text x="1694.2" y="180.9" font-size="20.6" text-anchor="end">10</text>
<line x1="1697.2" y1="109.7" x2="1702.4" y2="109.7" stroke="#3c3c3c" stroke-width="1.1"/>
<text x="1694.2" y="115.6" font-size="20.6" text-anchor="end">15</text>
<line x1="1697.2" y1="44.4" x2="1702.4" y2="44.4" stroke="#3c3c3c" stroke-width="1.1"/>
<text x="1694.2" y="50.3" font-size="20.6" text-anchor="end">20</text>
<line x1="1755.5" y1="128.1" x2="1819.8" y2="128.1" stroke="#000" stroke-width="2.1" stroke-linecap="round"/>
<text x="1788" y="123.25" font-size="26.5" text-anchor="middle" font-weight="bold" font-family="DejaVu Sans">*</text>
<rect x="987.52" y="461.2" width="34.8" height="183.5" fill="#b3e6e1" stroke="#4e6262" stroke-width="1"/>
<rect x="1022.32" y="452.4" width="34.8" height="192.3" fill="#4f48a1" stroke="#2a2656" stroke-width="1"/>
<path d="M1004.52,449.5 V472.6 M1001.92,449.5 H1007.12 M1001.92,472.6 H1007.12" stroke="#111" stroke-width="1.4" fill="none"/>
<path d="M1039.32,446.6 V458 M1036.72,446.6 H1041.92 M1036.72,458 H1041.92" stroke="#111" stroke-width="1.4" fill="none"/>
<line x1="1021.92" y1="644.7" x2="1021.92" y2="649.9" stroke="#3c3c3c" stroke-width="1.1"/>
<text x="1021.92" y="671.4" font-size="24.5" text-anchor="middle">diffusion</text>
<rect x="1103.55" y="498.2" width="34.8" height="146.5" fill="#b3e6e1" stroke="#4e6262" stroke-width="1"/>
<rect x="1138.35" y="499.6" width="34.8" height="145.1" fill="#4f48a1" stroke="#2a2656" stroke-width="1"/>
<path d="M1120.55,490.6 V506.2 M1117.95,490.6 H1123.15 M1117.95,506.2 H1123.15" stroke="#111" stroke-width="1.4" fill="none"/>
<path d="M1155.35,493 V506.2 M1152.75,493 H1157.95 M1152.75,506.2 H1157.95" stroke="#111" stroke-width="1.4" fill="none"/>
<line x1="1137.95" y1="644.7" x2="1137.95" y2="649.9" stroke="#3c3c3c" stroke-width="1.1"/>
<text x="1134.95" y="671.4" font-size="24.5" text-anchor="middle">long-lived</text>
<rect x="1219.58" y="538.8" width="34.8" height="105.9" fill="#b3e6e1" stroke="#4e6262" stroke-width="1"/>
<rect x="1254.38" y="546.4" width="34.8" height="98.3" fill="#4f48a1" stroke="#2a2656" stroke-width="1"/>
<path d="M1236.58,532.7 V544.9 M1233.98,532.7 H1239.18 M1233.98,544.9 H1239.18" stroke="#111" stroke-width="1.4" fill="none"/>
<path d="M1271.38,542.7 V550.1 M1268.78,542.7 H1273.98 M1268.78,550.1 H1273.98" stroke="#111" stroke-width="1.4" fill="none"/>
<line x1="1253.98" y1="644.7" x2="1253.98" y2="649.9" stroke="#3c3c3c" stroke-width="1.1"/>
<text x="1253.98" y="671.4" font-size="24.5" text-anchor="middle">short-lived</text>
<path d="M963.9,383.3 V644.7 H1312 l1.2,2.5" fill="none" stroke="#3c3c3c" stroke-width="1.1"/>
<line x1="958.7" y1="644.7" x2="963.9" y2="644.7" stroke="#3c3c3c" stroke-width="1.1"/>
<text x="955.7" y="650.6" font-size="20.6" text-anchor="end">0.0</text>
<line x1="958.7" y1="557.57" x2="963.9" y2="557.57" stroke="#3c3c3c" stroke-width="1.1"/>
<text x="955.7" y="563.47" font-size="20.6" text-anchor="end">0.2</text>
<line x1="958.7" y1="470.43" x2="963.9" y2="470.43" stroke="#3c3c3c" stroke-width="1.1"/>
<text x="955.7" y="476.33" font-size="20.6" text-anchor="end">0.4</text>
<line x1="958.7" y1="383.3" x2="963.9" y2="383.3" stroke="#3c3c3c" stroke-width="1.1"/>
<text x="955.7" y="389.2" font-size="20.6" text-anchor="end">0.6</text>
<rect x="1500.1" y="414" width="52.2" height="230.5" fill="#b3e6e1" stroke="#4e6262" stroke-width="1"/>
<rect x="1552.3" y="459" width="52.2" height="185.5" fill="#4f48a1" stroke="#2a2656" stroke-width="1"/>
<path d="M1525.8,398.6 V429.1 M1523.2,398.6 H1528.4 M1523.2,429.1 H1528.4" stroke="#111" stroke-width="1.4" fill="none"/>
<path d="M1578,441.9 V475.5 M1575.4,441.9 H1580.6 M1575.4,475.5 H1580.6" stroke="#111" stroke-width="1.4" fill="none"/>
<line x1="1551.9" y1="644.5" x2="1551.9" y2="649.7" stroke="#3c3c3c" stroke-width="1.1"/>
<text x="1551.9" y="672" font-size="24.5" text-anchor="middle">long-lived</text>
<path d="M1464.8,383.8 V644.5 H1639 l1.2,2.5" fill="none" stroke="#3c3c3c" stroke-width="1.1"/>
<line x1="1459.6" y1="644.5" x2="1464.8" y2="644.5" stroke="#3c3c3c" stroke-width="1.1"/>
<text x="1456.6" y="650.4" font-size="20.6" text-anchor="end">0</text>
<line x1="1459.6" y1="585.2" x2="1464.8" y2="585.2" stroke="#3c3c3c" stroke-width="1.1"/>
<text x="1456.6" y="591.1" font-size="20.6" text-anchor="end">50</text>
<line x1="1459.6" y1="525.9" x2="1464.8" y2="525.9" stroke="#3c3c3c" stroke-width="1.1"/>
<text x="1456.6" y="531.8" font-size="20.6" text-anchor="end">100</text>
<line x1="1459.6" y1="466.6" x2="1464.8" y2="466.6" stroke="#3c3c3c" stroke-width="1.1"/>
<text x="1456.6" y="472.5" font-size="20.6" text-anchor="end">150</text>
<line x1="1459.6" y1="407.3" x2="1464.8" y2="407.3" stroke="#3c3c3c" stroke-width="1.1"/>
<text x="1456.6" y="413.2" font-size="20.6" text-anchor="end">200</text>
<rect x="1738.1" y="420.7" width="52.2" height="223.8" fill="#b3e6e1" stroke="#4e6262" stroke-width="1"/>
<rect x="1790.3" y="431.7" width="52.2" height="212.8" fill="#4f48a1" stroke="#2a2656" stroke-width="1"/>
<path d="M1763.8,402.1 V439 M1761.2,402.1 H1766.4 M1761.2,439 H1766.4" stroke="#111" stroke-width="1.4" fill="none"/>
<path d="M1816,410.8 V452.9 M1813.4,410.8 H1818.6 M1813.4,452.9 H1818.6" stroke="#111" stroke-width="1.4" fill="none"/>
<line x1="1789.9" y1="644.5" x2="1789.9" y2="649.7" stroke="#3c3c3c" stroke-width="1.1"/>
<text x="1789.9" y="672" font-size="24.5" text-anchor="middle">short-lived</text>
<path d="M1702.8,383.2 V644.5 H1877 l1.2,2.5" fill="none" stroke="#3c3c3c" stroke-width="1.1"/>
<line x1="1697.6" y1="644.5" x2="1702.8" y2="644.5" stroke="#3c3c3c" stroke-width="1.1"/>
<text x="1694.6" y="650.4" font-size="20.6" text-anchor="end">0</text>
<line x1="1697.6" y1="579.17" x2="1702.8" y2="579.17" stroke="#3c3c3c" stroke-width="1.1"/>
<text x="1694.6" y="585.07" font-size="20.6" text-anchor="end">5</text>
<line x1="1697.6" y1="513.85" x2="1702.8" y2="513.85" stroke="#3c3c3c" stroke-width="1.1"/>
<text x="1694.6" y="519.75" font-size="20.6" text-anchor="end">10</text>
<line x1="1697.6" y1="448.52" x2="1702.8" y2="448.52" stroke="#3c3c3c" stroke-width="1.1"/>
<text x="1694.6" y="454.42" font-size="20.6" text-anchor="end">15</text>
<line x1="1697.6" y1="383.2" x2="1702.8" y2="383.2" stroke="#3c3c3c" stroke-width="1.1"/>
<text x="1694.6" y="389.1" font-size="20.6" text-anchor="end">20</text>
<rect x="988.18" y="817" width="34.8" height="234.7" fill="#fdc48e" stroke="#6e5a48" stroke-width="1"/>
<rect x="1022.98" y="820.8" width="34.8" height="230.9" fill="#f2561f" stroke="#5e2810" stroke-width="1"/>
<path d="M1005.18,814 V820.2 M1002.58,814 H1007.78 M1002.58,820.2 H1007.78" stroke="#111" stroke-width="1.4" fill="none"/>
<path d="M1039.98,817.5 V823.7 M1037.38,817.5 H1042.58 M1037.38,823.7 H1042.58" stroke="#111" stroke-width="1.4" fill="none"/>
<line x1="1022.58" y1="1051.7" x2="1022.58" y2="1056.9" stroke="#3c3c3c" stroke-width="1.1"/>
<text x="1022.58" y="1079.8" font-size="24.5" text-anchor="middle">diffusion</text>
<rect x="1104.35" y="966.9" width="34.8" height="84.8" fill="#fdc48e" stroke="#6e5a48" stroke-width="1"/>
<rect x="1139.15" y="959.3" width="34.8" height="92.4" fill="#f2561f" stroke="#5e2810" stroke-width="1"/>
<path d="M1121.35,964.2 V970.2 M1118.75,964.2 H1123.95 M1118.75,970.2 H1123.95" stroke="#111" stroke-width="1.4" fill="none"/>
<path d="M1156.15,956.6 V962.3 M1153.55,956.6 H1158.75 M1153.55,962.3 H1158.75" stroke="#111" stroke-width="1.4" fill="none"/>
<line x1="1138.75" y1="1051.7" x2="1138.75" y2="1056.9" stroke="#3c3c3c" stroke-width="1.1"/>
<text x="1138.75" y="1079.8" font-size="24.5" text-anchor="middle">long-lived</text>
<rect x="1220.52" y="935.8" width="34.8" height="115.9" fill="#fdc48e" stroke="#6e5a48" stroke-width="1"/>
<rect x="1255.32" y="939.9" width="34.8" height="111.8" fill="#f2561f" stroke="#5e2810" stroke-width="1"/>
<path d="M1237.52,933.7 V938 M1234.92,933.7 H1240.12 M1234.92,938 H1240.12" stroke="#111" stroke-width="1.4" fill="none"/>
<path d="M1272.32,938 V941.8 M1269.72,938 H1274.92 M1269.72,941.8 H1274.92" stroke="#111" stroke-width="1.4" fill="none"/>
<line x1="1254.92" y1="1051.7" x2="1254.92" y2="1056.9" stroke="#3c3c3c" stroke-width="1.1"/>
<text x="1254.92" y="1079.8" font-size="24.5" text-anchor="middle">short-lived</text>
<path d="M964.5,790.5 V1051.7 H1313 l1.2,2.5" fill="none" stroke="#3c3c3c" stroke-width="1.1"/>
<line x1="959.3" y1="1051.7" x2="964.5" y2="1051.7" stroke="#3c3c3c" stroke-width="1.1"/>
<text x="956.3" y="1057.6" font-size="20.6" text-anchor="end">0.0</text>
<line x1="959.3" y1="964.63" x2="964.5" y2="964.63" stroke="#3c3c3c" stroke-width="1.1"/>
<text x="956.3" y="970.53" font-size="20.6" text-anchor="end">0.2</text>
<line x1="959.3" y1="877.57" x2="964.5" y2="877.57" stroke="#3c3c3c" stroke-width="1.1"/>
<text x="956.3" y="883.47" font-size="20.6" text-anchor="end">0.4</text>
<line x1="959.3" y1="790.5" x2="964.5" y2="790.5" stroke="#3c3c3c" stroke-width="1.1"/>
<text x="956.3" y="796.4" font-size="20.6" text-anchor="end">0.6</text>
<rect x="1498.9" y="922.6" width="52.2" height="129.1" fill="#fdc48e" stroke="#6e5a48" stroke-width="1"/>
<rect x="1551.1" y="913" width="52.2" height="138.7" fill="#f2561f" stroke="#5e2810" stroke-width="1"/>
<path d="M1524.6,916.2 V928.4 M1522,916.2 H1527.2 M1522,928.4 H1527.2" stroke="#111" stroke-width="1.4" fill="none"/>
<path d="M1576.8,907.5 V918.5 M1574.2,907.5 H1579.4 M1574.2,918.5 H1579.4" stroke="#111" stroke-width="1.4" fill="none"/>
<line x1="1550.7" y1="1051.7" x2="1550.7" y2="1056.9" stroke="#3c3c3c" stroke-width="1.1"/>
<text x="1550.7" y="1080.8" font-size="26.6" text-anchor="middle">long-lived</text>
<path d="M1463.9,790.5 V1051.7 H1637.5 l1.2,2.5" fill="none" stroke="#3c3c3c" stroke-width="1.1"/>
<line x1="1458.7" y1="1051.7" x2="1463.9" y2="1051.7" stroke="#3c3c3c" stroke-width="1.1"/>
<text x="1455.7" y="1057.6" font-size="20.6" text-anchor="end">0</text>
<line x1="1458.7" y1="992.28" x2="1463.9" y2="992.28" stroke="#3c3c3c" stroke-width="1.1"/>
<text x="1455.7" y="998.18" font-size="20.6" text-anchor="end">50</text>
<line x1="1458.7" y1="932.85" x2="1463.9" y2="932.85" stroke="#3c3c3c" stroke-width="1.1"/>
<text x="1455.7" y="938.75" font-size="20.6" text-anchor="end">100</text>
<line x1="1458.7" y1="873.42" x2="1463.9" y2="873.42" stroke="#3c3c3c" stroke-width="1.1"/>
<text x="1455.7" y="879.32" font-size="20.6" text-anchor="end">150</text>
<line x1="1458.7" y1="814" x2="1463.9" y2="814" stroke="#3c3c3c" stroke-width="1.1"/>
<text x="1455.7" y="819.9" font-size="20.6" text-anchor="end">200</text>
<rect x="1745.1" y="955" width="52.2" height="96.7" fill="#fdc48e" stroke="#6e5a48" stroke-width="1"/>
<rect x="1797.3" y="942.3" width="52.2" height="109.4" fill="#f2561f" stroke="#5e2810" stroke-width="1"/>
<path d="M1770.8,952.2 V958 M1768.2,952.2 H1773.4 M1768.2,958 H1773.4" stroke="#111" stroke-width="1.4" fill="none"/>
<path d="M1823,940 V944.6 M1820.4,940 H1825.6 M1820.4,944.6 H1825.6" stroke="#111" stroke-width="1.4" fill="none"/>
<line x1="1796.9" y1="1051.7" x2="1796.9" y2="1056.9" stroke="#3c3c3c" stroke-width="1.1"/>
<text x="1796.9" y="1080.8" font-size="26.6" text-anchor="middle">short-lived</text>
<path d="M1709.5,790.5 V1051.7 H1884.3 l1.2,2.5" fill="none" stroke="#3c3c3c" stroke-width="1.1"/>
<line x1="1704.3" y1="1051.7" x2="1709.5" y2="1051.7" stroke="#3c3c3c" stroke-width="1.1"/>
<text x="1701.3" y="1057.6" font-size="20.6" text-anchor="end">0</text>
<line x1="1704.3" y1="986.4" x2="1709.5" y2="986.4" stroke="#3c3c3c" stroke-width="1.1"/>
<text x="1701.3" y="992.3" font-size="20.6" text-anchor="end">5</text>
<line x1="1704.3" y1="921.1" x2="1709.5" y2="921.1" stroke="#3c3c3c" stroke-width="1.1"/>
<text x="1701.3" y="927" font-size="20.6" text-anchor="end">10</text>
<line x1="1704.3" y1="855.8" x2="1709.5" y2="855.8" stroke="#3c3c3c" stroke-width="1.1"/>
<text x="1701.3" y="861.7" font-size="20.6" text-anchor="end">15</text>
<line x1="1704.3" y1="790.5" x2="1709.5" y2="790.5" stroke="#3c3c3c" stroke-width="1.1"/>
<text x="1701.3" y="796.4" font-size="20.6" text-anchor="end">20</text>
<line x1="1762.5" y1="911.1" x2="1826.8" y2="911.1" stroke="#000" stroke-width="2.1" stroke-linecap="round"/>
<text x="1795.2" y="907.45" font-size="26.5" text-anchor="middle" font-weight="bold" font-family="DejaVu Sans">*</text>
<rect x="988.18" y="1240.5" width="34.8" height="158.5" fill="#fdc48e" stroke="#6e5a48" stroke-width="1"/>
<rect x="1022.98" y="1233.4" width="34.8" height="165.6" fill="#f2561f" stroke="#5e2810" stroke-width="1"/>
<path d="M1005.18,1234.3 V1246.4 M1002.58,1234.3 H1007.78 M1002.58,1246.4 H1007.78" stroke="#111" stroke-width="1.4" fill="none"/>
<path d="M1039.98,1228 V1239.1 M1037.38,1228 H1042.58 M1037.38,1239.1 H1042.58" stroke="#111" stroke-width="1.4" fill="none"/>
<line x1="1022.58" y1="1399" x2="1022.58" y2="1404.2" stroke="#3c3c3c" stroke-width="1.1"/>
<text x="1022.58" y="1426.2" font-size="24.5" text-anchor="middle">diffusion</text>
<rect x="1104.35" y="1239.1" width="34.8" height="159.9" fill="#fdc48e" stroke="#6e5a48" stroke-width="1"/>
<rect x="1139.15" y="1239.1" width="34.8" height="159.9" fill="#f2561f" stroke="#5e2810" stroke-width="1"/>
<path d="M1121.35,1234.8 V1242.4 M1118.75,1234.8 H1123.95 M1118.75,1242.4 H1123.95" stroke="#111" stroke-width="1.4" fill="none"/>
<path d="M1156.15,1234.5 V1242.9 M1153.55,1234.5 H1158.75 M1153.55,1242.9 H1158.75" stroke="#111" stroke-width="1.4" fill="none"/>
<line x1="1138.75" y1="1399" x2="1138.75" y2="1404.2" stroke="#3c3c3c" stroke-width="1.1"/>
<text x="1135.55" y="1426.2" font-size="24.5" text-anchor="middle">long-lived</text>
<rect x="1220.52" y="1283.7" width="34.8" height="115.3" fill="#fdc48e" stroke="#6e5a48" stroke-width="1"/>
<rect x="1255.32" y="1290.4" width="34.8" height="108.6" fill="#f2561f" stroke="#5e2810" stroke-width="1"/>
<path d="M1237.52,1278.8 V1288.3 M1234.92,1278.8 H1240.12 M1234.92,1288.3 H1240.12" stroke="#111" stroke-width="1.4" fill="none"/>
<path d="M1272.32,1285.6 V1295.8 M1269.72,1285.6 H1274.92 M1269.72,1295.8 H1274.92" stroke="#111" stroke-width="1.4" fill="none"/>
<line x1="1254.92" y1="1399" x2="1254.92" y2="1404.2" stroke="#3c3c3c" stroke-width="1.1"/>
<text x="1251.92" y="1426.2" font-size="24.5" text-anchor="middle">short-lived</text>
<path d="M964.5,1137.8 V1399 H1313 l1.2,2.5" fill="none" stroke="#3c3c3c" stroke-width="1.1"/>
<line x1="959.3" y1="1399" x2="964.5" y2="1399" stroke="#3c3c3c" stroke-width="1.1"/>
<text x="956.3" y="1404.9" font-size="20.6" text-anchor="end">0.0</text>
<line x1="959.3" y1="1311.93" x2="964.5" y2="1311.93" stroke="#3c3c3c" stroke-width="1.1"/>
<text x="956.3" y="1317.83" font-size="20.6" text-anchor="end">0.2</text>
<line x1="959.3" y1="1224.87" x2="964.5" y2="1224.87" stroke="#3c3c3c" stroke-width="1.1"/>
<text x="956.3" y="1230.77" font-size="20.6" text-anchor="end">0.4</text>
<line x1="959.3" y1="1137.8" x2="964.5" y2="1137.8" stroke="#3c3c3c" stroke-width="1.1"/>
<text x="956.3" y="1143.7" font-size="20.6" text-anchor="end">0.6</text>
<rect x="1500.1" y="1171" width="52.2" height="228.4" fill="#fdc48e" stroke="#6e5a48" stroke-width="1"/>
<rect x="1552.3" y="1190.4" width="52.2" height="209" fill="#f2561f" stroke="#5e2810" stroke-width="1"/>
<path d="M1525.8,1158.8 V1182.6 M1523.2,1158.8 H1528.4 M1523.2,1182.6 H1528.4" stroke="#111" stroke-width="1.4" fill="none"/>
<path d="M1578,1174.4 V1205.8 M1575.4,1174.4 H1580.6 M1575.4,1205.8 H1580.6" stroke="#111" stroke-width="1.4" fill="none"/>
<line x1="1551.9" y1="1399.4" x2="1551.9" y2="1404.6" stroke="#3c3c3c" stroke-width="1.1"/>
<text x="1551.9" y="1426.4" font-size="24.5" text-anchor="middle">long-lived</text>
<path d="M1464.8,1138.2 V1399.4 H1639 l1.2,2.5" fill="none" stroke="#3c3c3c" stroke-width="1.1"/>
<line x1="1459.6" y1="1399.4" x2="1464.8" y2="1399.4" stroke="#3c3c3c" stroke-width="1.1"/>
<text x="1456.6" y="1405.3" font-size="20.6" text-anchor="end">0</text>
<line x1="1459.6" y1="1339.98" x2="1464.8" y2="1339.98" stroke="#3c3c3c" stroke-width="1.1"/>
<text x="1456.6" y="1345.88" font-size="20.6" text-anchor="end">50</text>
<line x1="1459.6" y1="1280.55" x2="1464.8" y2="1280.55" stroke="#3c3c3c" stroke-width="1.1"/>
<text x="1456.6" y="1286.45" font-size="20.6" text-anchor="end">100</text>
<line x1="1459.6" y1="1221.12" x2="1464.8" y2="1221.12" stroke="#3c3c3c" stroke-width="1.1"/>
<text x="1456.6" y="1227.03" font-size="20.6" text-anchor="end">150</text>
<line x1="1459.6" y1="1161.7" x2="1464.8" y2="1161.7" stroke="#3c3c3c" stroke-width="1.1"/>
<text x="1456.6" y="1167.6" font-size="20.6" text-anchor="end">200</text>
<rect x="1748.4" y="1155.9" width="52.2" height="243.5" fill="#fdc48e" stroke="#6e5a48" stroke-width="1"/>
<rect x="1800.6" y="1191.3" width="52.2" height="208.1" fill="#f2561f" stroke="#5e2810" stroke-width="1"/>
<path d="M1774.1,1139 V1173.3 M1771.5,1139 H1776.7 M1771.5,1173.3 H1776.7" stroke="#111" stroke-width="1.4" fill="none"/>
<path d="M1826.3,1178.8 V1203.8 M1823.7,1178.8 H1828.9 M1823.7,1203.8 H1828.9" stroke="#111" stroke-width="1.4" fill="none"/>
<line x1="1800.2" y1="1399.4" x2="1800.2" y2="1404.6" stroke="#3c3c3c" stroke-width="1.1"/>
<text x="1800.2" y="1426.4" font-size="24.5" text-anchor="middle">short-lived</text>
<path d="M1712.4,1141.9 V1399.4 H1888" fill="none" stroke="#3c3c3c" stroke-width="1.1"/>
<line x1="1707.2" y1="1399.4" x2="1712.4" y2="1399.4" stroke="#3c3c3c" stroke-width="1.1"/>
<text x="1704.2" y="1405.3" font-size="20.6" text-anchor="end">0</text>
<line x1="1707.2" y1="1335.03" x2="1712.4" y2="1335.03" stroke="#3c3c3c" stroke-width="1.1"/>
<text x="1704.2" y="1340.93" font-size="20.6" text-anchor="end">5</text>
<line x1="1707.2" y1="1270.65" x2="1712.4" y2="1270.65" stroke="#3c3c3c" stroke-width="1.1"/>
<text x="1704.2" y="1276.55" font-size="20.6" text-anchor="end">10</text>
<line x1="1707.2" y1="1206.28" x2="1712.4" y2="1206.28" stroke="#3c3c3c" stroke-width="1.1"/>
<text x="1704.2" y="1212.18" font-size="20.6" text-anchor="end">15</text>
<line x1="1707.2" y1="1141.9" x2="1712.4" y2="1141.9" stroke="#3c3c3c" stroke-width="1.1"/>
<text x="1704.2" y="1147.8" font-size="20.6" text-anchor="end">20</text>
<text x="901.5" y="170.8" font-size="26.4" text-anchor="middle" transform="rotate(-90 901.5 170.8)">fraction</text>
<text x="900.5" y="511" font-size="26.4" text-anchor="middle" transform="rotate(-90 900.5 511)">fraction</text>
<text x="901" y="917.5" font-size="26.4" text-anchor="middle" transform="rotate(-90 901 917.5)">fraction</text>
<text x="901" y="1265.3" font-size="26.4" text-anchor="middle" transform="rotate(-90 901 1265.3)">fraction</text>
<text x="1379.4" y="180.6" font-size="26.4" text-anchor="middle" transform="rotate(-90 1379.4 180.6)">characteristic time</text>
<text x="1411.7" y="180.6" font-size="26.4" text-anchor="middle" transform="rotate(-90 1411.7 180.6)">(ms)</text>
<text x="1373.7" y="507" font-size="26.4" text-anchor="middle" transform="rotate(-90 1373.7 507)">characteristic time</text>
<text x="1405.9" y="507" font-size="26.4" text-anchor="middle" transform="rotate(-90 1405.9 507)">(ms)</text>
<text x="1372.2" y="913.9" font-size="26.4" text-anchor="middle" transform="rotate(-90 1372.2 913.9)">characteristic time</text>
<text x="1404.2" y="913.9" font-size="26.4" text-anchor="middle" transform="rotate(-90 1404.2 913.9)">(ms)</text>
<text x="1373.4" y="1273.3" font-size="26.4" text-anchor="middle" transform="rotate(-90 1373.4 1273.3)">characteristic time</text>
<text x="1405.6" y="1273.3" font-size="26.4" text-anchor="middle" transform="rotate(-90 1405.6 1273.3)">(ms)</text>
<text x="-0.5" y="36.8" font-size="48" font-weight="bold" textLength="55.5" lengthAdjust="spacingAndGlyphs">(a)</text>
<text x="-1.5" y="797" font-size="48.5" font-weight="bold" textLength="60" lengthAdjust="spacingAndGlyphs">(b)</text>
<text x="837.5" y="36.8" font-size="48" font-weight="bold" textLength="52.5" lengthAdjust="spacingAndGlyphs">(c)</text>
<text x="829" y="797.8" font-size="48.5" font-weight="bold" textLength="61" lengthAdjust="spacingAndGlyphs">(d)</text>
<text x="112" y="93" font-size="38.5" font-weight="bold" textLength="82.5" lengthAdjust="spacingAndGlyphs">Oct4</text>
<text x="111.8" y="866.1" font-size="36.5" font-weight="bold" textLength="82.5" lengthAdjust="spacingAndGlyphs">Sox2</text>
<text x="122.6" y="178.5" font-size="31.5" textLength="169" lengthAdjust="spacingAndGlyphs">nucleoplasm</text>
<text x="247" y="521.2" font-size="31.5" textLength="47" lengthAdjust="spacingAndGlyphs">foci</text>
<text x="125" y="945.7" font-size="31.5" textLength="169" lengthAdjust="spacingAndGlyphs">nucleoplasm</text>
<text x="247" y="1273.4" font-size="31.5" textLength="48" lengthAdjust="spacingAndGlyphs">foci</text>
<rect x="58.5" y="607" width="39.3" height="27.4" fill="#b3e6e1"/>
<rect x="58.5" y="646.3" width="39.3" height="27.4" fill="#4f48a1"/>
<rect x="58.5" y="1360" width="39.3" height="27.4" fill="#fdc48e"/>
<rect x="58.5" y="1399.2" width="39.3" height="27.4" fill="#f2561f"/>
<text x="102.5" y="628.1" font-size="20.3" fill="#1a1a1a" textLength="224.5" lengthAdjust="spacingAndGlyphs">undifferentiated ES cells</text>
<text x="103.2" y="664.6" font-size="20.3" fill="#1a1a1a" textLength="253.5" lengthAdjust="spacingAndGlyphs">early-differentiated ES cells</text>
<text x="103.2" y="1381.9" font-size="20.3" fill="#1a1a1a" textLength="224.5" lengthAdjust="spacingAndGlyphs">undifferentiated ES cells</text>
<text x="103.2" y="1417.8" font-size="20.3" fill="#1a1a1a" textLength="253.5" lengthAdjust="spacingAndGlyphs">early-differentiated ES cells</text>
<filter id="shd" x="-30%" y="-30%" width="160%" height="160%"><feGaussianBlur in="SourceAlpha" stdDeviation="8.5"/><feOffset dx="-8" dy="10" result="b"/><feComponentTransfer><feFuncA type="linear" slope="0.36"/></feComponentTransfer><feMerge><feMergeNode/><feMergeNode in="SourceGraphic"/></feMerge></filter>
<path d="M146.25,250.62 C155.62,251.04 168.12,252.19 177.5,255.62 C186.88,259.06 195.21,265.1 202.5,271.25 C209.79,277.4 216.15,284.79 221.25,292.5 C226.35,300.21 230.31,308.33 233.12,317.5 C235.94,326.67 237.92,337.92 238.12,347.5 C238.33,357.08 237.4,367.29 234.38,375 C231.35,382.71 226.35,388.44 220,393.75 C213.65,399.06 205.42,403.75 196.25,406.88 C187.08,410 174.38,411.77 165,412.5 C155.62,413.23 148.75,412.71 140,411.25 C131.25,409.79 120.83,407.29 112.5,403.75 C104.17,400.21 96.88,395.42 90,390 C83.12,384.58 76.25,377.92 71.25,371.25 C66.25,364.58 62.33,356.88 60,350 C57.67,343.12 56.94,337.29 57.25,330 C57.56,322.71 58.71,314.17 61.88,306.25 C65.04,298.33 70.31,289.58 76.25,282.5 C82.19,275.42 90,268.65 97.5,263.75 C105,258.85 113.12,255.31 121.25,253.12 C129.38,250.94 136.88,250.21 146.25,250.62Z" fill="#9b8478" filter="url(#shd)"/>
<path d="M142.5,263.75 C150.83,263.85 162.29,264.58 171.25,267.5 C180.21,270.42 188.96,275 196.25,281.25 C203.54,287.5 210.21,297.29 215,305 C219.79,312.71 222.92,320 225,327.5 C227.08,335 227.92,342.71 227.5,350 C227.08,357.29 226.04,364.79 222.5,371.25 C218.96,377.71 213.75,384.17 206.25,388.75 C198.75,393.33 186.88,396.67 177.5,398.75 C168.12,400.83 159.38,401.46 150,401.25 C140.62,401.04 130.21,400.21 121.25,397.5 C112.29,394.79 103.12,390 96.25,385 C89.38,380 84.06,373.96 80,367.5 C75.94,361.04 73.12,353.96 71.88,346.25 C70.62,338.54 70.73,329.58 72.5,321.25 C74.27,312.92 77.92,303.54 82.5,296.25 C87.08,288.96 93.54,282.4 100,277.5 C106.46,272.6 114.17,269.17 121.25,266.88 C128.33,264.58 134.17,263.65 142.5,263.75Z" fill="#8dc500"/>
<path d="M125,301.25 C127.81,301.15 130.83,302.92 133.12,304.38 C135.42,305.83 136.56,308.69 138.75,310 C140.94,311.31 143.85,311.21 146.25,312.25 C148.65,313.29 151.35,313.92 153.12,316.25 C154.9,318.58 156.52,322.81 156.88,326.25 C157.23,329.69 156.5,333.85 155.25,336.88 C154,339.9 152.12,342.4 149.38,344.38 C146.62,346.35 142.4,348.27 138.75,348.75 C135.1,349.23 131,348.71 127.5,347.25 C124,345.79 120.31,343.29 117.75,340 C115.19,336.71 113.08,331.67 112.12,327.5 C111.17,323.33 111.31,318.75 112,315 C112.69,311.25 114.08,307.29 116.25,305 C118.42,302.71 122.19,301.35 125,301.25Z" fill="#afbc63"/>
<ellipse cx="162.25" cy="288.5" rx="8.12" ry="7.12" fill="#399a4b"/>
<ellipse cx="188.38" cy="361.25" rx="10" ry="9.38" fill="#399a4b"/>
<path d="M126.25,362.25 C128.69,360.83 132.71,360.73 135.62,361.5 C138.54,362.27 142.04,365.08 143.75,366.88 C145.46,368.67 146.4,370.48 145.88,372.25 C145.35,374.02 143.06,376.21 140.62,377.5 C138.19,378.79 134.06,380.1 131.25,380 C128.44,379.9 125.46,378.54 123.75,376.88 C122.04,375.21 120.58,372.44 121,370 C121.42,367.56 123.81,363.67 126.25,362.25Z" fill="#399a4b"/>
<path d="M157.5,1011.88 C167.29,1011.35 176.25,1013.02 185,1015.62 C193.75,1018.23 202.08,1022.4 210,1027.5 C217.92,1032.6 226.46,1039.58 232.5,1046.25 C238.54,1052.92 242.92,1058.75 246.25,1067.5 C249.58,1076.25 252.29,1088.54 252.5,1098.75 C252.71,1108.96 250.83,1120 247.5,1128.75 C244.17,1137.5 239.79,1144.58 232.5,1151.25 C225.21,1157.92 213.75,1164.9 203.75,1168.75 C193.75,1172.6 182.92,1173.96 172.5,1174.38 C162.08,1174.79 151.25,1174.06 141.25,1171.25 C131.25,1168.44 120.83,1163.54 112.5,1157.5 C104.17,1151.46 96.56,1144.38 91.25,1135 C85.94,1125.62 81.67,1112.92 80.62,1101.25 C79.58,1089.58 81.56,1075.83 85,1065 C88.44,1054.17 94.38,1043.96 101.25,1036.25 C108.12,1028.54 116.88,1022.81 126.25,1018.75 C135.62,1014.69 147.71,1012.4 157.5,1011.88Z" fill="#9b8478" filter="url(#shd)"/>
<path d="M160,1020 C167.92,1020 176.67,1021.88 185,1025 C193.33,1028.12 202.71,1033.54 210,1038.75 C217.29,1043.96 223.75,1050 228.75,1056.25 C233.75,1062.5 237.6,1068.33 240,1076.25 C242.4,1084.17 243.33,1095.21 243.12,1103.75 C242.92,1112.29 242.19,1120 238.75,1127.5 C235.31,1135 229.38,1143.12 222.5,1148.75 C215.62,1154.38 206.25,1158.33 197.5,1161.25 C188.75,1164.17 179.38,1166.04 170,1166.25 C160.62,1166.46 150.21,1165.21 141.25,1162.5 C132.29,1159.79 123.12,1155.42 116.25,1150 C109.38,1144.58 103.44,1138.12 100,1130 C96.56,1121.88 95.42,1111.67 95.62,1101.25 C95.83,1090.83 97.81,1077.5 101.25,1067.5 C104.69,1057.5 110.21,1048.33 116.25,1041.25 C122.29,1034.17 130.21,1028.54 137.5,1025 C144.79,1021.46 152.08,1020 160,1020Z" fill="#8dc500"/>
<path d="M161.25,1087.5 C164.58,1087.71 169.79,1089.17 172.5,1091.25 C175.21,1093.33 176.56,1096.25 177.5,1100 C178.44,1103.75 178.75,1109.17 178.12,1113.75 C177.5,1118.33 175.94,1123.54 173.75,1127.5 C171.56,1131.46 168.54,1134.79 165,1137.5 C161.46,1140.21 156.46,1142.92 152.5,1143.75 C148.54,1144.58 144.27,1143.96 141.25,1142.5 C138.23,1141.04 135.42,1137.71 134.38,1135 C133.33,1132.29 133.65,1128.75 135,1126.25 C136.35,1123.75 140.62,1122.71 142.5,1120 C144.38,1117.29 145.42,1113.54 146.25,1110 C147.08,1106.46 146.46,1102.08 147.5,1098.75 C148.54,1095.42 150.21,1091.88 152.5,1090 C154.79,1088.12 157.92,1087.29 161.25,1087.5Z" fill="#afbc63"/>
<ellipse cx="131.88" cy="1059.38" rx="8.12" ry="7.25" fill="#399a4b"/>
<ellipse cx="164.38" cy="1058.12" rx="10" ry="9.62" fill="#399a4b"/>
<path d="M192.5,1120 C193.85,1118.38 197.08,1115.98 200,1115.25 C202.92,1114.52 207.4,1114.62 210,1115.62 C212.6,1116.62 214.96,1119.31 215.62,1121.25 C216.29,1123.19 215.98,1125.58 214,1127.25 C212.02,1128.92 206.92,1130.75 203.75,1131.25 C200.58,1131.75 196.98,1131.29 195,1130.25 C193.02,1129.21 192.29,1126.71 191.88,1125 C191.46,1123.29 191.15,1121.62 192.5,1120Z" fill="#399a4b"/>
<path d="M184.83,312.83 L185.99,309.94 L187.17,307.08 L188.39,304.25 L189.63,301.45 L190.89,298.68 L192.18,295.94 L193.5,293.22 L194.84,290.53 L196.21,287.87 L197.6,285.24 L199.02,282.63 L200.47,280.06 L201.94,277.51 L203.44,274.99 L204.96,272.49 L206.51,270.03 L208.08,267.59 L209.68,265.18 L211.3,262.8 L212.95,260.45 L214.62,258.12 L216.32,255.82 L218.04,253.55 L219.79,251.31 L221.56,249.09 L223.36,246.9 L225.18,244.74 L227.02,242.61 L228.86,240.47 L230.73,238.37 L232.62,236.29 L234.53,234.24 L236.47,232.21 L238.44,230.21 L240.43,228.23 L242.44,226.29 L244.48,224.37 L246.55,222.47 L248.64,220.6 L250.75,218.76 L252.89,216.95 L255.05,215.16 L257.24,213.39 L259.45,211.66 L261.69,209.95 L263.95,208.26 L266.24,206.6 L268.55,204.97 L270.88,203.36 L273.24,201.78 L275.63,200.23 L278.03,198.7 L280.47,197.2 L282.92,195.73 L285.4,194.28 L287.91,192.85 L290.43,191.44 L292.98,190.06 L295.55,188.7 L298.14,187.37 L300.76,186.06 L303.4,184.78 L306.07,183.52 L308.76,182.29 L311.48,181.09 L314.22,179.91 L316.98,178.76 L319.77,177.63 L322.58,176.53 L325.41,175.45 L328.27,174.4 L331.15,173.38 L334.06,172.38 L336.99,171.4 L339.94,170.46 L342.92,169.53 L345.92,168.64 L348.94,167.77 L351.99,166.92 L355.07,166.1 L354.48,163.88 L351.39,164.67 L348.31,165.5 L345.26,166.34 L342.23,167.22 L339.22,168.12 L336.23,169.05 L333.27,170 L330.33,170.98 L327.41,171.99 L324.52,173.02 L321.65,174.08 L318.8,175.16 L315.97,176.27 L313.17,177.41 L310.39,178.57 L307.64,179.76 L304.91,180.98 L302.2,182.22 L299.51,183.49 L296.85,184.79 L294.21,186.11 L291.6,187.46 L289.01,188.83 L286.44,190.24 L283.91,191.68 L281.39,193.15 L278.91,194.64 L276.44,196.16 L274,197.71 L271.59,199.28 L269.2,200.88 L266.83,202.51 L264.49,204.16 L262.18,205.84 L259.88,207.55 L257.62,209.28 L255.37,211.04 L253.16,212.83 L250.96,214.65 L248.79,216.49 L246.65,218.35 L244.53,220.25 L242.44,222.17 L240.37,224.12 L238.33,226.09 L236.31,228.09 L234.32,230.12 L232.35,232.17 L230.41,234.26 L228.49,236.37 L226.6,238.5 L224.74,240.66 L222.93,242.88 L221.15,245.12 L219.39,247.39 L217.67,249.68 L215.96,252 L214.29,254.35 L212.64,256.72 L211.02,259.12 L209.42,261.54 L207.85,263.99 L206.31,266.47 L204.79,268.97 L203.3,271.5 L201.84,274.05 L200.4,276.64 L198.99,279.24 L197.61,281.88 L196.25,284.54 L194.92,287.22 L193.62,289.93 L192.35,292.67 L191.1,295.44 L189.88,298.23 L188.68,301.04 L187.51,303.89 L186.37,306.76 L185.26,309.65 L184.17,312.57Z" fill="#22148f"/>
<path d="M365.5,163.3 Q355.2,161.53 346.3,153.5 Q349.07,158.81 352.8,165.3 Q352.65,173 352.8,179.3 Q356.99,168.62 365.5,163.3 Z" fill="#22148f"/>
<path d="M187.98,362.05 L189.26,364.93 L190.56,367.78 L191.88,370.62 L193.21,373.42 L194.56,376.2 L195.94,378.95 L197.32,381.68 L198.73,384.38 L200.16,387.06 L201.6,389.71 L203.07,392.33 L204.55,394.93 L206.05,397.51 L207.57,400.05 L209.11,402.58 L210.67,405.07 L212.25,407.54 L213.86,409.99 L215.48,412.41 L217.12,414.81 L218.78,417.18 L220.46,419.52 L222.17,421.84 L223.89,424.14 L225.63,426.41 L227.4,428.65 L229.19,430.87 L231,433.06 L232.86,435.2 L234.75,437.32 L236.65,439.41 L238.58,441.47 L240.53,443.51 L242.5,445.52 L244.49,447.51 L246.5,449.47 L248.54,451.41 L250.6,453.32 L252.68,455.2 L254.78,457.06 L256.91,458.9 L259.06,460.71 L261.23,462.49 L263.43,464.25 L265.64,465.98 L267.89,467.68 L270.15,469.36 L272.44,471.02 L274.75,472.65 L277.09,474.26 L279.45,475.84 L281.84,477.39 L284.25,478.92 L286.68,480.42 L289.14,481.9 L291.62,483.36 L294.14,484.77 L296.68,486.17 L299.24,487.53 L301.83,488.87 L304.44,490.19 L307.08,491.48 L309.75,492.74 L312.44,493.99 L315.15,495.2 L317.9,496.39 L320.66,497.56 L323.46,498.7 L326.27,499.82 L329.12,500.91 L331.99,501.98 L334.89,503.02 L337.81,504.04 L340.77,505.03 L343.74,506 L346.75,506.94 L349.78,507.86 L352.84,508.76 L355.93,509.63 L359.04,510.48 L359.65,508.26 L356.56,507.39 L353.5,506.5 L350.47,505.58 L347.47,504.64 L344.5,503.67 L341.55,502.68 L338.64,501.67 L335.75,500.63 L332.88,499.57 L330.05,498.49 L327.24,497.38 L324.46,496.25 L321.7,495.09 L318.97,493.91 L316.27,492.7 L313.6,491.47 L310.95,490.22 L308.32,488.94 L305.73,487.64 L303.15,486.31 L300.61,484.96 L298.09,483.58 L295.59,482.18 L293.12,480.76 L290.67,479.32 L288.24,477.86 L285.84,476.38 L283.46,474.87 L281.11,473.33 L278.77,471.77 L276.47,470.19 L274.18,468.58 L271.92,466.94 L269.69,465.29 L267.48,463.6 L265.29,461.89 L263.12,460.16 L260.97,458.4 L258.85,456.61 L256.75,454.8 L254.68,452.97 L252.62,451.11 L250.59,449.22 L248.58,447.31 L246.59,445.38 L244.63,443.41 L242.68,441.43 L240.76,439.41 L238.86,437.38 L236.97,435.31 L235.11,433.22 L233.27,431.11 L231.42,428.99 L229.59,426.85 L227.78,424.68 L225.99,422.49 L224.22,420.27 L222.47,418.02 L220.74,415.75 L219.02,413.45 L217.33,411.12 L215.66,408.76 L214,406.38 L212.36,403.97 L210.74,401.54 L209.14,399.08 L207.56,396.59 L206,394.07 L204.45,391.53 L202.92,388.96 L201.42,386.36 L199.92,383.73 L198.45,381.08 L196.99,378.4 L195.55,375.7 L194.13,372.96 L192.73,370.2 L191.34,367.41 L189.97,364.6 L188.62,361.75Z" fill="#22148f"/>
<path d="M369,511.7 Q360.76,506.11 356.5,495.3 Q356.81,501.38 357.4,508.9 Q353.46,515.68 350.4,521.3 Q359.08,513.26 369,511.7 Z" fill="#22148f"/>
<path d="M201.13,1074.92 L202.33,1071.68 L203.55,1068.49 L204.79,1065.35 L206.05,1062.27 L207.33,1059.23 L208.63,1056.24 L209.96,1053.31 L211.3,1050.42 L212.67,1047.57 L214.05,1044.78 L215.46,1042.03 L216.89,1039.32 L218.34,1036.66 L219.82,1034.05 L221.31,1031.48 L222.83,1028.95 L224.37,1026.47 L225.93,1024.03 L227.51,1021.63 L229.12,1019.27 L230.75,1016.95 L232.4,1014.68 L234.08,1012.44 L235.78,1010.24 L237.5,1008.08 L239.24,1005.96 L241.01,1003.87 L242.8,1001.82 L244.59,999.78 L246.4,997.77 L248.23,995.8 L250.09,993.86 L251.97,991.95 L253.88,990.08 L255.82,988.24 L257.78,986.42 L259.77,984.64 L261.78,982.89 L263.82,981.16 L265.89,979.47 L267.98,977.8 L270.1,976.16 L272.24,974.55 L274.42,972.96 L276.62,971.4 L278.84,969.86 L281.1,968.35 L283.38,966.86 L285.69,965.4 L288.03,963.96 L290.4,962.54 L292.8,961.14 L295.22,959.76 L297.68,958.41 L300.16,957.07 L302.67,955.76 L305.2,954.44 L307.77,953.15 L310.36,951.88 L312.99,950.62 L315.64,949.38 L318.32,948.15 L321.04,946.94 L323.78,945.75 L326.56,944.57 L329.37,943.4 L332.2,942.25 L335.07,941.11 L337.97,939.98 L340.91,938.87 L343.87,937.76 L346.86,936.67 L349.89,935.58 L352.95,934.5 L356.04,933.44 L359.16,932.38 L362.32,931.33 L365.51,930.29 L368.73,929.25 L371.98,928.22 L371.3,926.02 L368.03,927.03 L364.79,928.04 L361.58,929.06 L358.4,930.09 L355.26,931.12 L352.15,932.16 L349.06,933.22 L346.01,934.28 L342.99,935.35 L340,936.44 L337.04,937.53 L334.12,938.64 L331.22,939.76 L328.35,940.89 L325.51,942.04 L322.7,943.2 L319.92,944.38 L317.18,945.57 L314.46,946.78 L311.76,948.01 L309.1,949.25 L306.47,950.51 L303.87,951.79 L301.29,953.09 L298.75,954.42 L296.24,955.77 L293.76,957.15 L291.3,958.54 L288.87,959.96 L286.48,961.39 L284.1,962.86 L281.76,964.34 L279.45,965.85 L277.16,967.38 L274.9,968.94 L272.66,970.53 L270.46,972.14 L268.28,973.78 L266.13,975.44 L264,977.14 L261.9,978.86 L259.83,980.61 L257.78,982.39 L255.76,984.21 L253.77,986.05 L251.8,987.92 L249.86,989.83 L247.94,991.77 L246.05,993.74 L244.18,995.75 L242.34,997.79 L240.53,999.86 L238.77,1002 L237.04,1004.17 L235.33,1006.38 L233.65,1008.62 L231.99,1010.9 L230.36,1013.22 L228.76,1015.57 L227.18,1017.97 L225.62,1020.4 L224.09,1022.87 L222.58,1025.38 L221.09,1027.93 L219.63,1030.52 L218.2,1033.15 L216.79,1035.83 L215.4,1038.54 L214.03,1041.31 L212.68,1044.11 L211.36,1046.96 L210.07,1049.85 L208.79,1052.79 L207.54,1055.78 L206.3,1058.81 L205.09,1061.89 L203.91,1065.01 L202.74,1068.19 L201.59,1071.41 L200.47,1074.68Z" fill="#22148f"/>
<path d="M381.4,924.7 Q371.57,923.4 363.2,915.6 Q366.03,921.02 369.7,927.6 Q368.89,935.32 368.4,941.6 Q373,930.55 381.4,924.7 Z" fill="#22148f"/>
<path d="M203.98,1123.65 L205.25,1126.44 L206.53,1129.2 L207.84,1131.95 L209.18,1134.67 L210.54,1137.37 L211.92,1140.05 L213.33,1142.71 L214.77,1145.34 L216.22,1147.95 L217.7,1150.54 L219.21,1153.11 L220.74,1155.66 L222.29,1158.18 L223.86,1160.69 L225.46,1163.17 L227.09,1165.63 L228.73,1168.06 L230.41,1170.47 L232.1,1172.87 L233.82,1175.23 L235.56,1177.58 L237.32,1179.91 L239.11,1182.21 L240.92,1184.49 L242.76,1186.74 L244.61,1188.98 L246.49,1191.19 L248.4,1193.38 L250.35,1195.52 L252.33,1197.63 L254.33,1199.73 L256.36,1201.79 L258.4,1203.84 L260.47,1205.86 L262.56,1207.86 L264.67,1209.83 L266.8,1211.79 L268.95,1213.71 L271.13,1215.62 L273.32,1217.5 L275.54,1219.36 L277.78,1221.19 L280.04,1223 L282.33,1224.79 L284.63,1226.55 L286.95,1228.29 L289.3,1230 L291.67,1231.7 L294.05,1233.36 L296.46,1235.01 L298.89,1236.63 L301.34,1238.22 L303.81,1239.8 L306.3,1241.35 L308.81,1242.87 L311.34,1244.37 L313.9,1245.84 L316.48,1247.28 L319.08,1248.69 L321.7,1250.09 L324.34,1251.45 L327,1252.8 L329.67,1254.12 L332.37,1255.41 L335.09,1256.68 L337.82,1257.93 L340.58,1259.15 L343.35,1260.35 L346.15,1261.53 L348.96,1262.68 L351.79,1263.8 L354.64,1264.9 L357.51,1265.98 L360.4,1267.03 L363.31,1268.06 L366.23,1269.06 L369.18,1270.04 L372.14,1271 L375.12,1271.93 L378.11,1272.84 L378.79,1270.64 L375.81,1269.71 L372.86,1268.76 L369.93,1267.78 L367.02,1266.78 L364.12,1265.75 L361.25,1264.71 L358.39,1263.64 L355.55,1262.54 L352.74,1261.42 L349.94,1260.28 L347.16,1259.11 L344.4,1257.92 L341.67,1256.7 L338.95,1255.47 L336.25,1254.2 L333.57,1252.92 L330.91,1251.61 L328.27,1250.28 L325.65,1248.92 L323.05,1247.54 L320.47,1246.14 L317.92,1244.71 L315.38,1243.26 L312.86,1241.78 L310.36,1240.3 L307.87,1238.79 L305.41,1237.26 L302.97,1235.7 L300.54,1234.12 L298.14,1232.52 L295.76,1230.9 L293.4,1229.25 L291.06,1227.57 L288.74,1225.88 L286.44,1224.16 L284.16,1222.41 L281.91,1220.65 L279.67,1218.86 L277.46,1217.05 L275.26,1215.21 L273.09,1213.35 L270.94,1211.47 L268.81,1209.56 L266.7,1207.63 L264.62,1205.68 L262.55,1203.7 L260.51,1201.71 L258.49,1199.68 L256.49,1197.64 L254.51,1195.57 L252.56,1193.48 L250.62,1191.37 L248.68,1189.26 L246.76,1187.12 L244.86,1184.97 L242.98,1182.78 L241.12,1180.58 L239.29,1178.35 L237.48,1176.1 L235.69,1173.82 L233.92,1171.52 L232.17,1169.2 L230.45,1166.85 L228.75,1164.48 L227.07,1162.09 L225.41,1159.67 L223.78,1157.23 L222.16,1154.76 L220.58,1152.28 L219.01,1149.76 L217.47,1147.23 L215.95,1144.67 L214.45,1142.09 L212.97,1139.48 L211.52,1136.85 L210.09,1134.2 L208.69,1131.52 L207.31,1128.82 L205.95,1126.1 L204.62,1123.35Z" fill="#22148f"/>
<path d="M385.9,1273.4 Q377.6,1268.04 372.8,1257.3 Q374.57,1263.6 376.5,1271.3 Q371.16,1277.9 366.6,1283.3 Q375.89,1275.19 385.9,1273.4 Z" fill="#22148f"/></svg></body></html>
